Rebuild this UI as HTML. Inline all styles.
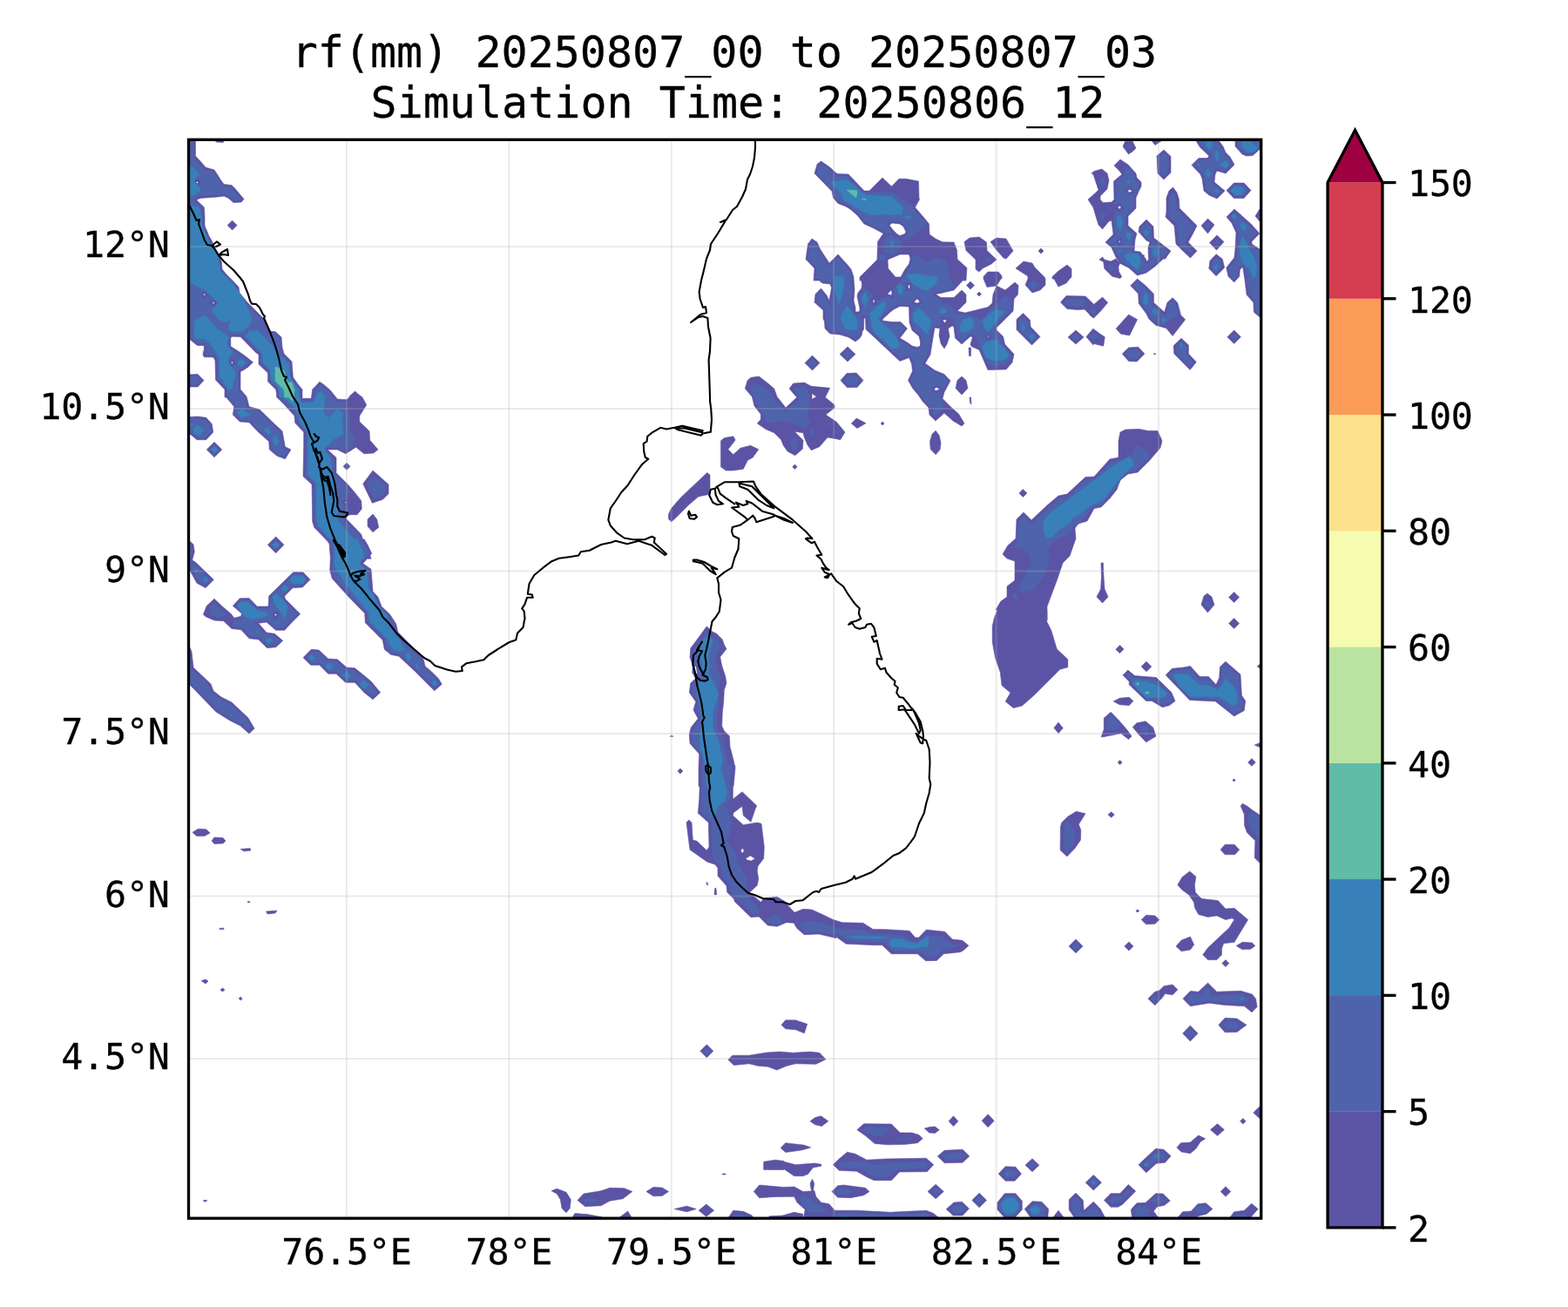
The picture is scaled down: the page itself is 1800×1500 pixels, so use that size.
<!DOCTYPE html>
<html lang="en"><head><meta charset="utf-8"><title>rf(mm) 20250807_00 to 20250807_03</title>
<style>
html,body{margin:0;padding:0;background:#fff;}
body{width:1800px;height:1500px;overflow:hidden;}
svg{display:block;}
text{font-family:"DejaVu Sans Mono","Liberation Mono",monospace;fill:#000;stroke:#000;stroke-width:0.3px;}
.t{font-size:50px;text-anchor:middle;}
.k{font-size:41.67px;letter-spacing:-0.15px;}
.c1{fill:#5b53a4;stroke:#5b53a4;stroke-width:0.6;}
.c2{fill:#4e63ac;stroke:#4e63ac;stroke-width:0.6;}
.c3{fill:#3880b9;stroke:#3880b9;stroke-width:0.6;}
.c4{fill:#60bba8;stroke:#60bba8;stroke-width:0.6;}
.w{fill:#fff;stroke:none;}
.g{stroke:#b0b0b0;stroke-opacity:0.26;stroke-width:2;fill:none;}
.coast{fill:none;stroke:#000;stroke-width:2.1;stroke-linejoin:round;stroke-linecap:round;}
</style></head>
<body>
<svg width="1800" height="1500" viewBox="0 0 1800 1500">
<rect x="0" y="0" width="1800" height="1500" fill="#fff"/>
<defs><clipPath id="ax"><rect x="216.5" y="160.3" width="1231.2" height="1237.9"/></clipPath></defs>
<g clip-path="url(#ax)">
<path class="c1" fill-rule="evenodd" d="M247,159 248,163 256.4,163.4 257,159Z M261.1,258.6 266.6,264.1 272.1,258.6 266.6,253.1Z M234.5,409.8 245,410 247,414 247.5,436 258,447 258,456 259.8,456 268.7,466.7 267.3,476 275.3,484 286,484.7 295.3,494.7 308.7,506.7 309.3,516 318,523.3 327.3,526.7 334,516 327.3,512.7 324,494.7 315.3,486.7 298,470 286,466.7 283.3,456 283,455.6 283,455 276,447 276,426.5 279,425 284.5,421.5 290.5,415.8 282,409 275,404 264.8,397.5 264.8,388 266,386.2 276,386.5 293.5,404.5 297,407 297,418 307.5,428 307.5,438 316.8,447.2 317.5,452.5 317.5,456 318,456 326,464 338,477.3 338.7,485.3 348.7,496 348.7,509.3 348,546.7 358,556 358.7,598.7 360.7,605.3 367.3,612 375.4,620.6 378,624 379.2,638.9 379.3,640.6 378.7,654.7 381.3,664 399.3,684 418.7,704 419.3,714.7 439.3,734.7 441.3,745.3 448.7,751.3 458,753.3 476.7,770.7 498.7,792.7 507.3,785.3 503.3,778.7 495.3,770.7 488,764.7 486.7,758.7 484.7,753.3 471.3,740 456.7,725.3 454.7,716 447.3,704.7 438,696 434,685.3 428,678.7 426,653.3 416.7,646.7 421.4,641.3 426,641.3 424.9,637.4 426.7,635.3 422,625.3 418,618.7 416.3,618.7 414.7,613.3 398,596 396.7,593.3 402,590.7 410,590.7 415.3,584 414.7,574.7 407.3,565.3 399.3,556 386,542.7 386,525.3 376,516 387.3,516 396.7,520.7 408.7,513.3 418,520.7 428.7,520 434,516 424.7,505.3 424,494.7 412.7,484 412.7,477.3 420.7,464.7 416,456 410.8,452 407.6,449 401,455 401,455.7 398,458.7 387.3,458 379.3,448 370,440 369.2,440 367,438 361.1,444.6 358.7,446.7 357.3,457.3 346.7,457.3 346.6,457 347,457 347,447 342,441 336.4,433 335,415 326,406 324,399 323,387 316,380.6 309,380 306,375 304,367 294,357 284.4,347.4 275,336 274,329.4 268,323 260,315 255,309 254.4,301 252,294 247,285 243,276 240,271 235,259 235,249 234.4,238 225.6,229.4 230,227.4 250,226 257,225 262.4,227.6 268,232.6 277,232 280,228.6 270,216.6 266,212.6 257,211.4 253,206 250,201 246,195 236,192 230,185 224.4,179 224.4,159 214,159 214,387 218.5,390 226.5,396.5 234.2,396.5 234.2,402.5 233.2,403.5 233.2,408ZM226.4,208.2 227.6,209.4 226.4,210.6 225.2,209.4ZM233.6,338 234.8,336.8 236,338 234.8,339.2ZM243.8,347.6 245,346.4 246.2,347.6 245,348.8ZM265.2,416.2 266.4,415 267.6,416.2 266.4,417.4ZM395.7,576.7 396.7,575.7 397.6,576.7 396.7,577.6Z M227,429.4 214,430 214,444 227,444 234,436.6Z M212.7,478.7 212.7,497.3 218,498 226,504.7 236.7,504.7 244.7,496 243.3,486.7 236.7,479.3 227.3,478Z M237.3,516 246,524.7 254.7,516 246,507.3Z M398,539.3 402,535.3 398,531.3 394,535.3Z M439.3,573.3 446,566.7 446,556 428,540 416.7,555.3 427.3,577.3Z M428,610.7 434.7,605.3 432.7,596 428,590 422,596 422,604Z M307.3,625.3 316.7,634.7 326,625.3 316.7,616Z M222,624.7 218,621.3 212.7,620 212.7,653.3 218,654.7 226,669.3 236,674.7 245.3,665.3 225.3,646 220.7,642.7 223.3,633.3Z M316.7,742.7 324.7,735.3 315.3,727.3 306,726 296.7,715.3 306,714 316.7,723.3 326.7,723.3 336,713.3 344.7,704.7 327.3,687.3 326.7,684 336,674.7 347.3,674 356,665.3 348,656.7 336.7,656.7 308.7,684 308,696 295.3,696 286,686.4 275.3,686.7 267.3,695.3 277.3,704 276.7,707.3 268.7,709.3 266,705.3 255.3,696 246,687.3 237.3,695.3 233.3,705.3 236.7,708 246,712 256.7,712.7 266,721.6 276.7,722.7 286,732.7 296.7,734 306.7,743.7ZM315.1,705.6 316.4,704.3 317.7,705.6 316.4,706.9Z M436.7,794.7 426,782 418,775.3 407.3,766.7 398,766 387.3,756.7 376.7,756 366,746 357.3,745.3 348,754.7 356.7,763.3 366.7,763.3 376.7,773.3 386,773.3 396.7,783.3 407.3,783.3 418,794.7 428,802.7Z M266,806 254,800 245,793 242,785 222,766 220,748 218,743 214,740 214,782 218,786 248,817 264,827 276,833 286,842 292,836 285,824Z M770.9,844 769.1,845.3 772.9,845.3Z M780.9,887.9 783.9,884.9 780.9,881.9 777.9,884.9Z M241.1,956.1 236.7,951.7 227.5,951.3 220.9,955.3 225.7,959.4 234.8,959.4Z M256,968 259,965 256,961.6 246,961 243,965 246,968.4Z M276,974.4 280,977 288,976 287,973.6Z M284.4,1034.6 284.4,1035.8 286.8,1035.8 286.8,1034.6Z M307,1049 316,1048 318,1045 305.6,1046Z M252,1066.6 257,1066.6 257,1065.2 252,1065.2Z M231,1125.6 236,1129 239,1126 236,1124Z M255.6,1138 258,1136 255.6,1134 253,1136Z M276.4,1148 278,1146.4 276.4,1144 274,1146Z M760,1372.5 767.5,1367.5 760,1363 750,1362.5 742,1367.5 750,1372.8Z M670,1370 663,1377.5 671.7,1384.7 690,1383.7 700,1378.3 715,1375.8 725.8,1367.5 716.7,1363.7 700,1363.3 690,1366.7Z M633,1366.7 639.2,1370 643.3,1376.7 645,1386.7 650,1391.7 654.2,1386.7 655.3,1376.7 650,1368.3 639.2,1364.2Z M238,1377.5 233,1377.5 235.5,1379.5Z M720.8,1390 705,1401.7 727.5,1401.7Z M675,1393.7 660,1392.5 654.2,1401.7 693.3,1401.7 690.8,1396.7Z M992,257 1003,262 1014,268 1007.5,277.5 1007,298 997,308 987,318 987,322 988.8,322 989.5,326 989,331 985,336 984,340 987,354 986.6,357.8 986.5,357.8 982,358 982,353 980,345 981,333 980,320 980,318 977,309 972,303 962,292 952,302 941.5,286 938,278 932,274 927.5,280 925,297.5 935,308 934.3,318 934,318 934.3,318.1 934,322 940.4,322 944,325 953,326 954.5,330 952,345 949,339 942.5,331 936,337.5 935,347 945,356 945,366 946.5,369 947,377 953,383 964,384 974,387 982,392 986.5,388.5 989,385 990,380 991.5,378 991.8,365 993.5,365 994,378 1033,414.5 1043.5,410.5 1046.5,417.5 1047.5,426 1042.5,436.5 1048,446 1054,453 1059,460.5 1066,468 1067,476 1074,483 1084,474 1094,483 1104,489 1107,486 1100.5,475 1093,468.5 1082,457.5 1084,450 1091,437 1084,429.5 1073,425 1062,417 1068,407 1069,400 1073,376 1079,377 1078,385 1080,394 1082,397.5 1082,397 1084,400 1087,395 1090,386 1088.5,377 1093,374 1095,375 1096.5,388 1104,395 1114,386 1116.5,387 1114,395 1115,397.5 1124,401.5 1134,424.5 1155,424 1162,416 1164,406.5 1153.5,395 1151.5,386 1144,379 1144,376 1163,357 1164,343 1168.5,338 1169,327.5 1165,324 1154,333 1144,328 1140,338 1139,348 1134,352.5 1108,359 1099,357 1109,347 1109,338 1104,333 1095,341.5 1084,341.5 1084,341.6 1080,341.5 1074,337.5 1082,336.3 1082,336 1095,333 1105.2,322 1109,322 1110,307.5 1099,297.5 1098.5,287 1095,278 1082,277.8 1074,274 1067,269 1066.5,257 1060,249 1050.5,238 1055.5,229 1055,227 1054.5,208 1040,205.2 1032,205.2 1023.5,214 1013,204 1002.5,214.5 998,219 992,219 974,200 961,199.5 952,191.5 942.5,185 938,188.5 935,199 955,219.5 956.5,227 962,233.5 971,237 976,240 984,247ZM1018.5,337.5 1023,333 1024,335 1023.5,339ZM1004,344 1004,347.5 1002.5,347.5 1002,344ZM1038.5,268.5 1033,270.5 1029,268 1024,262.5 1021,258.5 1024,256 1033,257 1037,260 1040,266ZM1039,309 1034,318 1028,318 1019.5,308 1019,298 1033,292 1043.5,292 1045,297 1043.5,303ZM1042.5,327 1044.5,327 1044.5,331 1042.5,331ZM1049,346.5 1053,342.8 1056,346.5 1053,348ZM1084.5,371 1082,367 1087,367ZM1034,369.5 1024,369.5 1013,368 1013,366.5 1021,359 1026,355 1033,351.5 1043.5,352 1044,370 1047,379 1055,386 1056.5,392 1056.5,397 1053,398.5 1047,397 1041.5,393 1033,388 1041.5,377ZM1134.5,387.5 1133.5,385.5 1135.5,385.5ZM1072,446.5 1075,444.5 1079,446.5 1074.5,448.5Z M973,415 982,406.5 973,398 964,406.5Z M932.5,425 941,416.5 932.5,408 924,416.5Z M984,444.5 991,436.5 983,428 972,428.5 965,436.5 972.5,444.8Z M899.3,511.3 904,518 912.7,522.7 921.3,515.3 922,505.3 912,495.3 922,496.7 923.3,502 927.3,511.3 931.3,516.7 940.7,512.7 950,502 958,503.3 964.7,504.7 970,496 960,484 948,476 958,468 958,464.7 947.3,456 952.7,445.3 931.3,443.3 923.3,439.1 910.7,440 906,446 914.7,456 902,468 892,455.3 888.7,446 880.7,439.3 871.3,432 862,433.3 858,436.7 855.3,446 863.3,455.3 866,466 873.3,475.3 873.3,481.3 869.3,486 879.3,492.7 888.7,496.7 896.7,504.7ZM932,451.6 937.3,455.3 932,458.3Z M984,491.6 994,485.7 983.3,480 977.3,486Z M1011.1,486 1013.1,488 1015.1,486 1013.1,484Z M861.7,511.3 850,514.2 841.7,521.7 835.8,515.8 844.2,505 841.7,500.8 831.7,502.5 827.5,505.8 827.5,535.8 833.3,540 841.7,540 853.3,538.3 858.3,528.3 864.2,525 870.8,515.8Z M909.7,535.7 912.4,538.4 915.1,535.7 912.4,533.1Z M811.7,542.5 796.7,556.7 781.7,570.8 770.8,583.3 767.5,590 767.5,595.8 770.8,598.7 775,595 790,580 801.7,570 813.3,567.5 815,560 815,545Z M798.7,805.3 796,814.7 801.3,824.7 793.3,834.7 791.3,842.7 792,853.3 802.7,865.3 802.1,878.7 802,878.7 802.1,879.7 802,881.3 802,902.7 803.2,902.7 802.7,917.3 801.3,933.3 813.3,944 814,972 811.3,976 800,965.3 795.3,964 794,944 790.7,941.1 788,944 790.7,965.3 792,975.3 812,989.3 820.7,992 824,996 824,1005.3 834,1016.7 834.7,1024 842.7,1032 843.3,1034.7 862,1052.7 871.3,1052 881.3,1062 892,1063.3 902.7,1058.7 911.3,1059.3 914.7,1065.3 923.3,1072.7 940,1072 960,1076.7 960,1075.3 971.3,1083.3 1004,1084.7 1012.7,1084.7 1023.3,1094.7 1053.3,1094.7 1062.7,1102.7 1075.3,1102.4 1083.3,1094.7 1102,1092.7 1105.3,1091.3 1112,1085.3 1104.7,1079.3 1093.3,1078 1084.7,1069.3 1063.3,1067.1 1054.7,1076 1050.7,1076 1044,1068.3 1017.3,1066.7 1002,1066.4 990.7,1059.3 966.7,1058.7 956,1055.3 953.3,1054 946.7,1050.7 932,1044 922,1043.3 912,1047.3 905.3,1040 901.3,1034.7 892,1029.3 885.3,1030 877.3,1030.7 873.3,1035.3 862.7,1026 860,1024.7 869.3,1016 870.7,1008 869.3,1000 870,994 876.7,985.3 877.3,972 874,945.3 869.3,944 853.3,946.7 841.3,936 842,932.7 852,925.3 853.3,936 862,943.3 866.7,929.3 868.7,924.7 852,908.7 841.3,917.3 841.3,902.7 842,902.7 843.3,889.3 844,881.3 843.9,880.7 844,878.7 843.4,878.7 841.3,869.3 838,857.3 837.3,844.7 831.3,838.7 828.7,833.3 829.3,817.3 830.7,805.3 831.3,792 834,784 832.7,776 828.7,764 826.7,754 834,744.7 831.3,740 829.3,734 822.7,727.3 817.3,724.7 811.3,718.7 802.7,730.7 792.7,744 792,754.7 795.3,764 794.7,772 798.7,778.7 792.7,784 791.3,794.7ZM799.3,764 800.7,773.3 798.7,774.7 797.3,765.3ZM853.3,974 854,976.7 852,979.3 850.7,977.3 851.1,974ZM861.3,982 866.7,985.3 862.7,988 858,987.3 856,985.3Z M811.3,1015.3 812.7,1016 812,1012.7 810.9,1012.7Z M820,1026.7 822.7,1026.7 822,1019.3 820.7,1019.3Z M913.3,1181.7 923.3,1185.8 926.7,1175.3 913.3,1170.8 901.7,1170.8 897,1176.3 901.7,1180.8Z M811.3,1213.8 818.8,1206.3 811.3,1198.8 803.8,1206.3Z M936.7,1221.3 948,1215.8 940.8,1208.3 930,1207 910,1208.3 895,1207 880,1208 860,1211.2 840.8,1211.3 835.8,1216.3 842.5,1222.5 860,1220.8 870,1223.3 881.7,1224.2 891.7,1228 903.3,1223.3 913.3,1220.8Z M943.3,1292.5 950.8,1286.7 942.5,1280.8 935.8,1282.5 930,1286.7 935.8,1290.8Z M1046.7,1300 1033.3,1300 1023.3,1290 991.7,1289.7 983.8,1296.7 993.3,1303.3 1004.2,1312.5 1020,1313.8 1040,1313.3 1053.3,1311.7 1059.2,1306.7 1055,1302.5Z M930.8,1317 923.3,1314.2 901.7,1311.7 896.2,1317.5 901.7,1322.5 920,1320Z M876.3,1337.5 876.7,1337.8 876.7,1342.5 881.5,1342.3 881.7,1342.5 900,1342.5 900,1341.7 911.7,1349.7 921.7,1349.7 927.5,1347.5 933.3,1340 942.5,1338.3 943,1336.3 935,1335 913.3,1336.7 900,1333.3 900,1332.5 890,1331.2 881.7,1332.5 881.6,1332.6 876.7,1333.3 876.7,1337.2Z M1071.7,1336.7 1063.3,1329.2 1016.7,1330 995,1331.2 981.7,1324.2 972.5,1322.2 963.3,1330 956.3,1336.7 963.3,1343.3 983.3,1344.2 995,1350.8 1003.3,1354.7 1023.3,1354.7 1032.5,1345 1064.2,1344.7Z M829.2,1348 833,1348 833,1347 829.2,1347Z M930.8,1363.3 931.7,1366.7 931.9,1366.9 921.7,1367.5 911.7,1362 899.6,1362.5 871.7,1360 865.3,1367.5 871.7,1374.7 886.7,1373.7 892.8,1373.5 911.7,1373.3 915,1380 924.2,1388.3 921.7,1401.7 1077.5,1401.7 1077.5,1397.5 1071.7,1392.5 1063.3,1389.2 1021.7,1391.3 983.3,1389.2 958.3,1389.2 951.7,1381.7 942.5,1380 936.7,1373.3 935,1366.7 934.1,1366.7 933.7,1365 934.7,1358.3 932.5,1353.3 930,1358.3Z M961.7,1374.2 976.7,1374.7 991.7,1371.7 998,1367.5 993.3,1363.3 968.3,1360 961.7,1360.8 955,1367.5Z M774.2,1387.5 788.3,1390.8 799.2,1387.5 788.3,1384.2Z M802.1,1389.2 810.8,1396.2 819.6,1389.2 810.8,1382.1Z M841.7,1389.2 833.3,1401.7 866.7,1401.7 863.3,1395 853.3,1390.3Z M898.3,1401.7 900,1401.7 921.7,1401.7 921.7,1393.3 911.7,1391.3 898.3,1395 898.3,1395.1 883.3,1395.8 880,1401.7Z M1152,296 1155,297 1163,288 1155,274 1144,273 1137,277.5 1144,287Z M1195,291 1198,288 1195,285 1192,288Z M1133,287.5 1132.5,278 1124,272 1113,273 1107,277.5 1109,287.5 1120,298 1120,309 1124,312 1128,308 1138,303 1144,298Z M1208,317.5 1208,320 1210,320 1215,329 1224,325 1228,320 1230,318 1230,308.5 1225,304 1215,311Z M1188,307 1185,302 1175,300 1166,308 1180,317 1180,320 1177,327 1185,336 1194,333 1200,327 1200,320 1199,318Z M1129,317.5 1129,320 1133,329.5 1144,328 1149,320 1150,320 1150,316.5 1146,312 1134,312Z M1109.5,327.5 1114,332 1118.5,327.5 1114,323Z M1124,340 1126.5,337.5 1124,335 1121.5,337.5Z M1167,378.5 1184.5,396 1194,386.5 1183,375 1182.5,367.5 1174.5,359.5 1167,366.5Z M1235,395 1244,387 1235,379 1226,387Z M1112,399 1112.5,408.5 1114.5,408.5 1114.5,399Z M1109,436.5 1104,432 1099,436.5 1097,445.5 1104,453 1111,445.5Z M1113.5,462 1115,464 1114.5,456 1113,456Z M1067.5,506.7 1068.3,515.8 1074.2,521.7 1079.2,515.8 1080,508.3 1078.3,500 1074.2,494.2 1070,498.3Z M1169.9,566 1174.4,570.5 1178.9,566 1174.4,561.5Z M1202,580 1184,597 1175,588 1167,596 1166,618 1157,626 1151,636 1156,641 1165,644 1165,666 1156,673 1156,685 1149,690 1143,700 1145,700 1141.7,708.3 1139.2,718.3 1139.2,736.7 1142.5,755 1148.3,771.7 1150,786.7 1160,795 1154.2,805 1163.3,812.5 1173.3,810 1186.7,798.3 1213.3,771.7 1216.7,768.3 1225.8,765.8 1225.8,756.7 1213.3,745 1206.7,723.3 1201.7,713.3 1201.7,700 1202,712 1202,696 1208,680 1214,664 1220,646 1228,638 1235,618 1234,606 1238,601 1248,598 1256,583.6 1264,582 1274,572 1282,562 1286,551 1295,544 1306,542 1320,528 1332,514 1334,506 1329,494.4 1318,494.4 1308,492.4 1292,493 1286,496 1284,506 1284,525 1274,527 1256,547 1246,547.6 1225,567 1215,569Z M1220.3,835.6 1219.9,835.2 1215,829.1 1210,835.3 1210.2,835.6 1210.1,835.6 1211.3,836.9 1215,841.6 1215.2,841.4 1215.2,841.4Z M1235.4,931.3 1226,937.1 1218.8,943.9 1217.4,948.9 1217.1,975.7 1224.9,982.9 1234,973.5 1240.5,964.1 1240.8,952.6 1238.3,946 1242,940.3 1246,933.7Z M1235,1093.8 1243,1085.9 1235,1078.1 1227.1,1085.9Z M1134.2,1293.8 1141.2,1286.3 1134.2,1278.8 1127.1,1286.3Z M1089.1,1286.7 1094.5,1292.5 1099.9,1286.7 1094.5,1280.8Z M1078.3,1296.7 1073.3,1293 1068.3,1293.3 1061.3,1295 1066.7,1300 1073.3,1300.5Z M1112.8,1327 1105,1319.2 1084.2,1320.3 1076.3,1327 1084.2,1334.7 1105,1334.2Z M1177.5,1336.7 1177.6,1336.7 1177.1,1337.2 1185,1344.7 1192.9,1337.2 1185,1329.7 1178.2,1336.1Z M1165,1355.3 1172.5,1347.2 1165.8,1339.2 1154.2,1338.8 1146.2,1347.2 1154.2,1355.3Z M1074.2,1375.8 1083.3,1367.5 1074.2,1359.2 1065,1367.5Z M1124.2,1385.8 1132.5,1377.5 1124.2,1369.2 1115.8,1377.5Z M1145,1380 1145,1388.3 1153.3,1397.5 1165,1397.5 1173.3,1388.3 1173.3,1378.3 1165.8,1369.7 1153.3,1369.7Z M1112.5,1387 1104.2,1379.2 1095,1380 1086.2,1387.8 1094.2,1395 1105,1395Z M1203.7,1387.5 1195.8,1379.2 1185,1378.7 1176.2,1387.5 1185,1400 1202.5,1400Z M1215,1389.2 1206.7,1400 1223.3,1400Z M1321,160 1326,166.5 1336,160Z M1304,170 1300,162 1291.5,162.5 1289,168 1295.5,177 1300,174Z M1336,206 1344,198 1344,179.5 1336,172 1328,179 1329,199Z M1263,229 1263,225 1271,217 1273,207 1271,199 1265,194 1256,196.5 1253,199 1255,200 1257,206 1261,218 1259,220 1249,229 1255,238 1257,245 1261,258 1265.5,263 1273,254 1276,253 1278,269 1269,278 1276,284 1280,293 1282,297 1282.4,297 1285.6,302.2 1295.6,307.2 1305.6,316.1 1315.6,313.3 1325.6,306.1 1335.6,297 1338,297 1339,295 1344,288 1324.5,273 1324,260 1316,252 1308,260 1307,266 1316,276 1320,278 1318,284 1318.5,297 1319.3,297 1316.7,300 1314,296 1316,298 1313.3,294.6 1313.3,292.8 1311.9,292.8 1309,289 1302,288 1303,275 1305,268 1295,259 1295,248 1304,239 1304,227 1307,220 1310,214 1310,209 1305,204 1304,199 1295,189 1286,183 1279,190 1284,195 1288,200 1278.5,208 1279,229 1276,232 1266,232.5ZM1297,217.5 1300,219.5 1296,221 1294.5,218.5ZM1283,238 1285.5,236 1287,238.5 1285,240ZM1284,277.5 1286,275.5 1285.5,279Z M1364,278 1370,267 1374,259 1354,239 1353.5,229 1351,221 1346.5,215 1342,219 1339,227 1339,243 1338,249 1348,259 1350,280 1359,289 1366.5,296 1374,288Z M1285.6,302.2 1283.3,299.4 1281,297 1275,300 1268,298 1265.6,295 1262,298 1266.7,300.6 1267.8,308.3 1276.7,317.2 1285.6,319.4 1287.8,317.8 1284.4,311.7 1283.9,306.1Z M1237,355.5 1245,355 1252.8,362.8 1255.6,365 1263.3,357.2 1271.7,347.2 1265.6,341.1 1255.6,349.4 1254.5,348 1246,340 1224,339.5 1217.5,347 1225,354.5Z M1355.6,361.7 1351.7,347.2 1346.1,341.7 1340,347.2 1336.7,358.3 1324.4,347.2 1324.4,337.2 1315.6,328.3 1305.6,320 1297.8,327.8 1306.7,337.2 1307.2,348.3 1315.6,359.4 1318.9,366.1 1326.7,373.3 1338.9,376.7 1346.1,385.6 1360.6,366.7Z M1250,360.6 1255,365 1252.8,362.8Z M1295.6,361.1 1281.1,377.2 1286.7,383.3 1296.7,385 1305.6,366.7Z M1255,396 1255.6,394.4 1266.7,397.2 1268.3,386.7 1262.2,382.8 1255,377.2 1255,377 1247,386.5Z M1324.4,405.7 1324.4,406.6 1326.7,406.6 1326.7,405.7Z M1347.8,406.1 1366.1,424.4 1373.3,415.6 1364.4,406.1 1364.4,396.1 1356.1,388.3 1347.2,396.7Z M1305,415 1313.9,406.1 1306.7,398.3 1295.6,398.9 1288.3,406.1 1295.6,414.4Z M1264,646 1264.4,662 1263.6,676 1259,685 1265.6,692 1272,685 1268,676 1267,662 1266.4,646Z M1285.6,749.5 1290.1,745 1285.6,740.5 1285.4,740.7 1285.4,740.7 1280.9,745.2 1285.4,749.7 1285.6,749.5Z M1316,770.8 1321.8,765 1316,759.2 1310.2,765Z M1327.3,777.5 1302.7,775.6 1294.8,769.1 1289,774.8 1296.2,782.1 1296.2,785.7 1315.7,804.5 1322.3,804.5 1334.5,811.7 1342.5,809.6 1349,804.5 1344.7,794.4Z M1296.2,809.6 1301,804.5 1296.2,800.2 1285.4,801.2 1278.1,804.9 1285.4,808.8Z M1267.3,837.1 1264.1,845.7 1266.6,845.7 1286.8,841.7 1295.5,848.6 1299.1,845 1294,837.8 1284.6,826.9 1275.2,817.2 1267.3,824Z M1315.7,851.8 1327,845 1323.7,834.9 1315,827.7 1304.9,829.8 1300.3,834.5 1307.1,842.8Z M1283.1,875.1 1285.6,877.6 1288.2,875.1 1285.6,872.6Z M1272,935 1275.7,938.3 1279.3,935 1275.7,931.8Z M1303.9,1045.4 1305.9,1047 1307.9,1045.4 1305.9,1043.8Z M1330.9,1055.6 1325.9,1050.9 1315.7,1050.2 1310.2,1055.6 1315.7,1060.8 1325.9,1060.3Z M1370.7,1084.2 1366.4,1075.1 1356.2,1079.1 1350,1085.9 1356.2,1091.7 1366.4,1090Z M1290.9,1085.9 1295.9,1091 1301,1085.9 1295.9,1080.9Z M1325.9,1138.2 1317.9,1146.2 1325.9,1153.8 1334.5,1144.7 1337.4,1140.4 1346.1,1141.8 1351.9,1135.8 1346.1,1130 1336,1131.7 1330.9,1136.8Z M1315.8,1345.8 1327.5,1335.3 1337.5,1334.2 1344.2,1326.7 1335.8,1319.2 1326.7,1318.3 1316.7,1327.5 1307,1336.7Z M1246.2,1357.2 1255.3,1365.9 1264.5,1357.2 1255.3,1348.4Z M1267.5,1377.5 1275,1385.3 1283.3,1385.3 1288.3,1382.5 1298.3,1372.5 1303.7,1367 1295.3,1359.5 1285.8,1369.7 1275,1369.7Z M1227.2,1376.7 1227.2,1388.3 1235,1400 1270,1400 1263.3,1387.5 1255.3,1379.2 1244.2,1389.2 1243.3,1377.5 1235,1369.2Z M1326.7,1369.7 1315,1380.3 1305,1380.8 1298.3,1388.3 1300,1400 1331.7,1400 1324.2,1390 1328.3,1385 1336.7,1383.3 1343.3,1378 1335,1370Z M1418,168 1426,177 1431,179 1438,178.5 1449,169 1449,160 1418,160Z M1395,200 1397,196 1407,199 1417,189 1412,180 1407,175 1404,168 1398,160 1372,160 1377.5,169 1388,179 1386,181.5 1376,181.5 1368,189.5 1378,200 1380,205 1382,219 1388,224 1397,228 1406,219 1394,209Z M1436,218.5 1428,210 1416.5,210 1408,218.5 1416.5,227.5 1428,227.5Z M1446,240 1441,248 1446,254 1449,254 1449,240Z M1379,259 1386.5,268 1394,258 1386.5,251Z M1416.7,323.9 1422.8,317.2 1423.3,309.4 1425.8,307 1426.8,307 1428.9,320.6 1431.1,338.3 1438.9,347.2 1439.4,358.3 1446.7,364.4 1450,366.1 1450,292.8 1449,292.8 1449,288 1437,280 1437,277 1446,268 1436,257 1426,248 1417,240 1408,249 1414,256 1419,267 1418,285 1417,295 1416.8,295.9 1416.7,296.1 1407.8,307.2 1410,317.2Z M1396.5,287 1405,277.5 1397,270 1388.5,278.5Z M1405.6,307.2 1403.3,297.2 1396.1,291.7 1388.9,299.4 1387.8,308.3 1396.1,316.7Z M1416.7,394.4 1424.4,386.7 1416.7,378.9 1408.9,386.7Z M1410.6,685.4 1416.6,691.4 1422.6,685.4 1416.6,679.4Z M1394,694 1391,685 1386,681 1382,684 1379,694 1386.4,703Z M1410.6,715.4 1416.6,721.4 1422.6,715.4 1416.6,709.4Z M1443.1,764.7 1448.8,769.1 1448.8,760.4Z M1400.4,765.4 1399.7,777.7 1396,785.7 1387.4,776.6 1377.2,776.6 1366.4,764.4 1359.1,765.9 1345.4,767.3 1338.2,774.8 1365.7,803.5 1395.3,804.9 1416.7,821.9 1428.3,815.4 1429.7,804.5 1425.4,798 1424,774.1 1406.9,759.2Z M1448.8,851.5 1440.2,855.1 1448.8,858.8Z M1437,879.3 1441.3,875 1437,870.6 1432.6,875Z M1416.6,897 1418.2,895.4 1416.6,893.8 1415,895.4Z M1451.7,935.2 1445.9,935.2 1437.3,929.4 1431.5,925.1 1426.4,922.2 1424.2,925.1 1428.3,934.5 1428.6,947.5 1431.5,955.4 1440.9,964.8 1440.2,984.4 1445.9,990.2 1451.7,990.9Z M1422.8,975.3 1417,969.2 1406.2,969.2 1401.1,975.3 1406.2,980.8 1417.7,980.8Z M1414.1,1053.8 1417,1055.3 1411.2,1064.7 1399.7,1075.5 1386.6,1087.8 1380.8,1095.8 1386.6,1101.6 1396.8,1101.6 1402.5,1095.8 1402.5,1088.5 1404.7,1082.8 1417,1081.3 1432.6,1055.6 1417,1042.3 1406.9,1043 1398.2,1033.6 1379.4,1031.4 1372.2,1024.2 1371.4,1015.5 1372.9,1006.1 1365.7,1000 1357,1006.8 1351.9,1015.5 1357,1021.3 1364.9,1027.1 1370.7,1035.7 1371.4,1041.5 1375.8,1049.5 1386.6,1052.4 1396.8,1050.9 1406.9,1055.6Z M1435.8,1089.3 1440.9,1085.4 1437.3,1082 1426.4,1081.3 1419.2,1085.4 1425.7,1089.6Z M1406.9,1109.6 1410.9,1105.6 1406.9,1101.6 1402.9,1105.6Z M1424.2,1137.2 1396.8,1138.2 1386.6,1128.1 1375.8,1138.2 1366.4,1137.5 1358,1146.2 1366.4,1154.8 1388.1,1151.2 1405.4,1153.4 1428.6,1154.8 1437,1161.8 1443.1,1155.6 1441.6,1146.2 1437.3,1141.1Z M1419.9,1184.5 1431,1176.3 1419.9,1169 1406.2,1168.3 1398.9,1176.3 1406.2,1184.8Z M1366.4,1195 1375.1,1186 1366.4,1176.9 1357.7,1186Z M1445.9,1269.9 1438.7,1277.1 1445.9,1283.6 1451.7,1284.3 1451.7,1269.9Z M1423.6,1286.8 1426.9,1290 1430.1,1286.8 1426.9,1283.5Z M1397.5,1303.5 1405.4,1296.6 1397.5,1289.8 1389.5,1296.6Z M1350.9,1316.9 1356.2,1322 1366.4,1323.8 1372.9,1318.3 1378,1310.4 1383.7,1306.8 1375.8,1303.1 1366.4,1311.1 1355.5,1311.8Z M1401.2,1367.5 1407,1373.3 1412.8,1367.5 1407,1361.7Z M1350,1400 1371.7,1400 1375,1395.8 1385,1393.3 1392,1387.5 1384.2,1380.8 1375,1381.7 1367.5,1390 1357.5,1390.8Z M1436.7,1381.3 1428.3,1389.2 1416.7,1390.8 1410,1400 1433.3,1400 1444.2,1387.5Z"/>
<path class="c2" fill-rule="evenodd" d="M973,411.5 978,406.5 973,401.5 968,406.5Z M937.5,416.5 932.5,411.5 927.5,416.5 932.5,421.5Z M216.5,432.4 216.5,441.5 225.9,441.5 230.5,436.6 226,431.9Z M911.3,446 918,458 902,472.7 888.7,458 883.3,448.7 870,440.7 860.7,443.3 864.7,454 868.7,463.3 875.3,474 880.7,485.3 899.3,483.3 910,486 923.3,491.3 930,486 926,476.7 930,463.3 928,451.3 924.7,443.3Z M311.1,505.5 311.8,514.8 319.3,521.1 326.3,523.6 330.4,517 325.1,514.3 321.7,495.9 313.6,488.5 296.7,472.2 283.9,468.7 281.1,457.2 280.5,456.5 280.5,455.9 273.5,447.9 273.5,425 277.8,422.8 283,419.5 286.7,416 280.5,411 273.6,406.1 262.3,398.9 262.3,387.2 264.7,383.7 277.1,384 295.1,402.6 299.5,405.7 299.5,416.9 310,426.9 310,437 319.1,446.1 320,452.3 320,454.5 327.8,462.3 340.4,476.3 341.1,484.3 351.2,495 351.2,509.4 350.5,545.6 360.5,554.9 361.2,598.3 362.9,604 369.1,610.3 377.3,619 380.4,623.1 381.7,638.7 381.8,640.6 381.2,654.4 383.6,662.8 401.2,682.3 421.1,702.9 421.8,713.6 441.6,733.4 443.6,744 449.8,749 459.2,751 478.4,768.9 498.8,789.3 504.1,784.8 501.3,780.2 493.7,772.5 485.7,766.1 484.3,759.4 482.5,754.7 469.6,741.8 454.4,726.6 452.3,717 445.4,706.3 435.9,697.4 431.8,686.7 425.6,679.7 423.6,654.7 413,647.1 420.2,638.8 422.7,638.8 422.1,636.7 423.7,634.9 419.8,626.5 416.6,621.2 414.4,621.2 412.4,614.6 395.9,597.5 393.3,592.2 401.1,588.3 398,580 398,579.7 397.9,579.8 397.6,579.9 397.4,580 397.2,580.1 396.9,580.1 396.7,580.1 396.4,580.1 396.2,580.1 395.9,580 395.7,579.9 395.5,579.8 395.3,579.7 395.1,579.5 394.9,579.4 393.9,578.4 393.8,578.3 393.6,578.1 393.5,577.9 393.4,577.6 393.3,577.4 393.3,577.2 393.2,576.9 393.2,576.7 393.2,576.4 393.3,576.2 393.3,575.9 393.4,575.7 393.5,575.5 393.6,575.3 393.8,575.1 393.9,574.9 394.9,573.9 395.1,573.8 395.3,573.6 395.5,573.5 395.7,573.4 395.9,573.3 396.2,573.3 396.4,573.2 396.7,573.2 396.9,573.2 397.2,573.3 397.3,573.3 396.7,568 404.6,566 397.5,557.7 383.5,543.7 383.5,526.4 369.7,513.5 387.9,513.5 396.5,517.8 406.2,511.9 402,509.3 408.7,504 402,493.3 400.7,473.3 396.7,466.7 398.5,461.2 386.1,460.4 377.5,449.7 369.1,442.5 368.3,442.5 367.2,441.5 362.8,446.4 361,448 359.5,459.8 344.3,459.8 344,454.4 344.5,454.4 344.5,447.9 340,442.5 334,433.9 332.6,416.1 323.8,407.3 321.5,399.5 320.6,388.2 314.9,383 307.5,382.4 303.7,376 301.7,368.3 282.5,349.1 272.6,337.1 271.6,330.5 266.2,324.7 258.2,316.7 252.6,310 251.9,301.5 249.7,295 244.8,286.1 240.8,277.2 237.8,272.1 232.5,259.5 232.5,249.1 232,239.1 221.2,228.6 229.4,224.9 249.7,223.5 257.4,222.4 263.8,225.5 268.9,230 275.8,229.6 276.7,228.6 268.2,218.3 264.8,215 255.6,213.7 250.9,207.4 247.9,202.3 244.4,197.1 234.6,194.2 228.1,186.7 221.9,180 221.9,161.5 216.5,161.5 216.5,385.7 220,388 227.4,394 236.7,394 236.7,403.5 235.7,404.5 235.7,407.2 235.8,407.3 246.6,407.5 249.5,413.4 250,435 260.5,446 260.5,453.5 260.9,453.5 271.3,465.9 270,475.1 276.4,481.6 287.1,482.2 297.1,492.9ZM263.1,414.8 263.3,414.6 263.4,414.5 264.7,413.2 264.8,413.1 265,412.9 265.2,412.8 265.4,412.7 265.7,412.6 265.9,412.5 266.2,412.5 266.4,412.5 266.6,412.5 266.9,412.5 267.1,412.6 267.4,412.7 267.6,412.8 267.8,412.9 268,413.1 268.1,413.2 269.4,414.5 269.5,414.6 269.7,414.8 269.8,415 269.9,415.2 270,415.5 270.1,415.7 270.1,416 270.1,416.2 270.1,416.4 270.1,416.7 270,416.9 269.9,417.2 269.8,417.4 269.7,417.6 269.5,417.8 269.4,417.9 268.1,419.2 268,419.3 267.8,419.5 267.6,419.6 267.4,419.7 267.1,419.8 266.9,419.9 266.6,419.9 266.4,419.9 266.2,419.9 265.9,419.9 265.7,419.8 265.4,419.7 265.2,419.6 265,419.5 264.8,419.3 264.7,419.2 263.4,417.9 263.3,417.8 263.1,417.6 263,417.4 262.9,417.2 262.8,416.9 262.7,416.7 262.7,416.4 262.7,416.2 262.7,416 262.7,415.7 262.8,415.5 262.9,415.2 263,415ZM241.7,346.2 241.9,346 242,345.9 243.3,344.6 243.4,344.5 243.6,344.3 243.8,344.2 244,344.1 244.3,344 244.5,343.9 244.8,343.9 245,343.9 245.2,343.9 245.5,343.9 245.7,344 246,344.1 246.2,344.2 246.4,344.3 246.6,344.5 246.7,344.6 248,345.9 248.1,346 248.3,346.2 248.4,346.4 248.5,346.6 248.6,346.9 248.7,347.1 248.7,347.4 248.7,347.6 248.7,347.8 248.7,348.1 248.6,348.3 248.5,348.6 248.4,348.8 248.3,349 248.1,349.2 248,349.3 246.7,350.6 246.6,350.7 246.4,350.9 246.2,351 246,351.1 245.7,351.2 245.5,351.3 245.2,351.3 245,351.3 244.8,351.3 244.5,351.3 244.3,351.2 244,351.1 243.8,351 243.6,350.9 243.4,350.7 243.3,350.6 242,349.3 241.9,349.2 241.7,349 241.6,348.8 241.5,348.6 241.4,348.3 241.3,348.1 241.3,347.8 241.3,347.6 241.3,347.4 241.3,347.1 241.4,346.9 241.5,346.6 241.6,346.4ZM231.5,336.6 231.7,336.4 231.8,336.3 233.1,335 233.2,334.9 233.4,334.7 233.6,334.6 233.8,334.5 234.1,334.4 234.3,334.3 234.6,334.3 234.8,334.3 235,334.3 235.3,334.3 235.5,334.4 235.8,334.5 236,334.6 236.2,334.7 236.4,334.9 236.5,335 237.8,336.3 237.9,336.4 238.1,336.6 238.2,336.8 238.3,337 238.4,337.3 238.5,337.5 238.5,337.8 238.5,338 238.5,338.2 238.5,338.5 238.4,338.7 238.3,339 238.2,339.2 238.1,339.4 237.9,339.6 237.8,339.7 236.5,341 236.4,341.1 236.2,341.3 236,341.4 235.8,341.5 235.5,341.6 235.3,341.7 235,341.7 234.8,341.7 234.6,341.7 234.3,341.7 234.1,341.6 233.8,341.5 233.6,341.4 233.4,341.3 233.2,341.1 233.1,341 231.8,339.7 231.7,339.6 231.5,339.4 231.4,339.2 231.3,339 231.2,338.7 231.1,338.5 231.1,338.2 231.1,338 231.1,337.8 231.1,337.5 231.2,337.3 231.3,337 231.4,336.8ZM227.8,206.1 228,206.3 228.1,206.4 229.4,207.7 229.5,207.8 229.7,208 229.8,208.2 229.9,208.4 230,208.7 230.1,208.9 230.1,209.2 230.1,209.4 230.1,209.6 230.1,209.9 230,210.1 229.9,210.4 229.8,210.6 229.7,210.8 229.5,211 229.4,211.1 228.1,212.4 228,212.5 227.8,212.7 227.6,212.8 227.4,212.9 227.1,213 226.9,213.1 226.6,213.1 226.4,213.1 226.2,213.1 225.9,213.1 225.7,213 225.4,212.9 225.2,212.8 225,212.7 224.8,212.5 224.7,212.4 223.4,211.1 223.3,211 223.1,210.8 223,210.6 222.9,210.4 222.8,210.1 222.7,209.9 222.7,209.6 222.7,209.4 222.7,209.2 222.7,208.9 222.8,208.7 222.9,208.4 223,208.2 223.1,208 223.3,207.8 223.4,207.7 224.7,206.4 224.8,206.3 225,206.1 225.2,206 225.4,205.9 225.7,205.8 225.9,205.7 226.2,205.7 226.4,205.7 226.6,205.7 226.9,205.7 227.1,205.8 227.4,205.9 227.6,206Z M954,488.7 953.3,484.7 950.7,486 951.3,490Z M215.2,495.1 219,495.6 226.9,502.2 235.6,502.2 242,495.2 241,487.8 235.4,481.7 227.2,480.5 215.2,481.1Z M963.3,497.3 963.3,494 957.3,494.7 958,497.3Z M935.3,496.7 933.3,491.3 930.7,494 932.7,502Z M916.7,508.7 912.7,502 907.3,506 910,518 915.3,515.3Z M246,510.9 240.9,516 246,521.1 251.1,516Z M442,557.8 428.6,545.9 421.3,555.8 429.4,572.4 437.2,569.8 442,565Z M316.7,619.5 310.9,625.3 316.7,631.1 322.5,625.3Z M219.7,626 216.8,623.6 215.2,623.2 215.2,651.4 219.7,652.5 227.8,667.5 235.5,671.6 241.8,665.4 223.7,647.9 217.8,643.7 220.8,633.2Z M324,683.2 334.9,672.2 346.2,671.6 352.5,665.3 346.9,659.2 337.7,659.2 311.1,685.1 310.4,698.5 294.3,698.5 285,688.9 276.5,689.1 270.9,695.1 280.1,703.1 278.8,709.4 268.3,712 266.7,718.8 267.1,719.2 277.9,720.3 287.2,730.3 297.8,731.6 307.6,741.1 315.6,740.3 320.9,735.4 314.3,729.7 304.7,728.3 291.7,713.5 306.8,711.4 317.6,720.8 325.6,720.8 334.2,711.6 341.1,704.7 325,688.6ZM313,704.2 313.1,704 313.2,703.9 314.7,702.4 314.8,702.3 315,702.2 315.2,702.1 315.4,701.9 315.7,701.9 315.9,701.8 316.2,701.8 316.4,701.8 316.6,701.8 316.9,701.8 317.1,701.9 317.4,701.9 317.6,702.1 317.8,702.2 318,702.3 318.1,702.4 319.6,703.9 319.7,704 319.8,704.2 319.9,704.4 320.1,704.6 320.1,704.9 320.2,705.1 320.2,705.4 320.2,705.6 320.2,705.8 320.2,706.1 320.1,706.3 320.1,706.6 319.9,706.8 319.8,707 319.7,707.2 319.6,707.3 318.1,708.8 318,708.9 317.8,709 317.6,709.1 317.4,709.3 317.1,709.3 316.9,709.4 316.6,709.4 316.4,709.4 316.2,709.4 315.9,709.4 315.7,709.3 315.4,709.3 315.2,709.1 315,709 314.8,708.9 314.7,708.8 313.2,707.3 313.1,707.2 313,707 312.9,706.8 312.7,706.6 312.7,706.3 312.6,706.1 312.6,705.8 312.6,705.6 312.6,705.4 312.6,705.1 312.7,704.9 312.7,704.6 312.9,704.4Z M260.7,705.3 246,692 240.7,696 242,705.3 250,709.3Z M377.7,770.8 387,770.8 397.7,780.8 408.4,780.8 419.7,792.8 427.9,799.4 433.2,794.4 424.2,783.8 416.4,777.3 406.4,769.1 397,768.4 386.3,759.1 375.6,758.4 364.9,748.4 358.3,747.9 351.5,754.7 357.7,760.8 367.7,760.8Z M217.6,748.6 216.5,746 216.5,781 219.8,784.2 249.6,815 265.2,824.8 277.4,830.9 285.9,838.6 288.9,835.6 283,825.6 264.6,808.1 252.7,802.1 242.9,794.5 239.9,786.4 219.6,767.2Z M826.7,744 825.3,735.3 818.7,732 811.3,724.7 804,734.7 796,745.3 795.3,754.7 798.7,764 798.6,764.5 799.3,764 800.7,773.3 799,774.4 801.3,780 796,785.3 794.7,794.7 802,805.3 799.3,814.7 804.7,825.3 796.7,836 794.7,843.3 795.3,853.3 806,866.7 805.3,902.7 805.9,902.7 805.3,917.3 804.7,932 817.3,942.7 817.3,972 818.7,985.3 828,994.7 828,1004 837.3,1014.7 838.7,1022.7 846.7,1032 864,1048.7 872,1048 870.7,1042.7 861.3,1032 856,1024 858.7,1008 852,1000 848,990.7 845.3,981.3 834.7,965.3 838.7,954.7 840,944 836,933.3 833.3,925.3 838.7,917.3 837.3,900 840,878.7 836.7,878.7 834.7,870.7 832,858.7 830.7,848 825.3,840 822.7,833.3 824,816 825.3,804 824.7,793.3 826,785.3 826.7,776 822.7,764 820.7,754Z M798,772 798.4,773 798.1,770.7Z M890.7,1060.7 896,1060 898,1054.7 890.7,1048.7 880,1056 881.3,1058.7Z M811.3,1202.6 807.6,1206.3 811.3,1210.1 815.1,1206.3Z M963.3,1371.3 973.3,1370.8 980,1367.5 973.3,1364.2 963.3,1364.2 959.2,1367.5Z M681.7,1380 686.7,1378.3 685,1375.8 675,1375 669.2,1377.5 671.7,1380Z M935,1380 923.3,1371.7 917.5,1376.7 923.3,1385 930,1391.7 943.3,1391.7 950,1388.3 943.3,1385Z M851.7,1393.7 843.3,1393.3 838.3,1401.7 860,1401.7 858.3,1396.7Z M960,202 950.5,193.5 942.6,188.1 940.2,190 937.8,198.3 938.2,198.7 938,199 957.6,219.5 958.8,225.9 963.5,231.4 972.1,234.7 977.5,238 985.8,245.3 993.6,255 1004.1,259.8 1017.6,267.1 1016.1,269.4 1024,267 1025.3,267.6 1022.1,264.1 1022,264.1 1019,260 1018.8,259.8 1018.7,259.6 1018.6,259.3 1018.6,259.1 1018.5,258.8 1018.5,258.6 1018.5,258.3 1018.5,258.1 1018.6,257.8 1018.7,257.6 1018.8,257.4 1018.9,257.1 1019,256.9 1019.2,256.7 1019.3,256.6 1022.4,254 1022.6,253.9 1022.8,253.8 1023,253.7 1023.3,253.6 1023.5,253.5 1023.8,253.5 1024,253.5 1024.2,253.5 1033.3,254.5 1033.5,254.5 1033.8,254.6 1034,254.7 1034.3,254.8 1034.5,255 1038.6,258 1038.7,258.1 1038.9,258.3 1039,258.5 1039.1,258.7 1039.2,258.8 1042.3,264.9 1042.3,265.1 1042.4,265.3 1042.5,265.6 1042.5,265.8 1042.5,266.1 1042.5,266.3 1042.4,266.6 1042.4,266.8 1042.3,267.1 1042.2,267.2 1040.6,269.8 1040.5,270 1040.4,270.2 1040.2,270.4 1040,270.5 1039.8,270.7 1039.6,270.8 1039.4,270.8 1034.9,272.5 1040,275 1064.1,258.3 1064,257.9 1058.1,250.6 1047.5,238.3 1048.3,236.8 1040,231 1025.5,221.9 1024,220.5 1018.8,221 1008,221 1001.2,219.3 999,221.5 990.9,221.5 972.9,202.5Z M1015,289 1024,293 1031,288 1037.5,278 1023,270 1014,276Z M1016.9,296.7 1017,296.5 1017.2,296.3 1017.4,296.1 1017.6,295.9 1017.8,295.8 1018,295.7 1018,295.7 1018,293 1009.7,291.3 1009.5,299 1016.5,299 1016.5,298.1 1016.5,297.9 1016.5,297.6 1016.6,297.4 1016.6,297.1 1016.7,296.9Z M1138,298 1134,295 1130,298 1134,301Z M1106.9,316.5 1105.6,319.5 1106.7,319.5Z M1193,327 1186,321 1180,327 1186,333Z M1170,368 1170,377.5 1184.5,392 1190,386.5 1180.5,376 1180,369 1174.5,363Z M949.4,375.9 954.1,380.6 964.5,381.5 975,384.7 981.8,389 984.7,386.8 986.7,384 987.7,379 989,377.1 989.4,362.5 995.9,362.5 996.5,376.9 1033.6,411.6 1044.9,407.3 1048.9,416.8 1050.1,426.4 1045.3,436.4 1050,444.5 1056,451.5 1061,458.9 1068.4,466.9 1068.6,468.5 1071,469 1072,476 1074,478 1082,469 1084,464 1083.6,462.6 1079.2,458.2 1081.7,449.1 1087.9,437.4 1082.5,431.6 1071.8,427.2 1058.7,417.7 1065.6,406.1 1066.5,399.6 1070.9,373.1 1079.2,374.5 1079.7,368 1079.7,367.9 1079.6,367.7 1079.5,367.4 1079.5,367.2 1079.5,366.9 1079.5,366.7 1079.5,366.5 1079.6,366.2 1079.7,366 1079.8,365.8 1079.9,365.7 1080,364 1087,364 1093,367 1097,373 1097,373.2 1097.3,373.4 1097.8,377.3 1099,384 1098.6,384.6 1098.9,386.8 1104,391.6 1113.5,383.1 1119.3,385.4 1120,385 1124,396 1125.3,399.4 1125.9,399.6 1133.3,416.7 1140,420.5 1152,419.5 1158,413.5 1159.7,414.6 1161.3,407.2 1151.2,396.2 1149.2,387.3 1141.5,380.1 1141.5,375 1160.6,355.9 1161.4,344.3 1160,345 1154,339.5 1140,352.5 1125,367 1120,364.5 1113,360.5 1112.7,360.4 1108,361.6 1094,358.5 1096.8,355.7 1092,353 1086,348 1080,347 1078.8,343.7 1078.7,343.6 1072.6,339.6 1072.4,339.4 1072.2,339.3 1072,339.1 1071.9,338.9 1071.8,338.7 1071.7,338.4 1071.6,338.2 1071.5,338 1071.5,337.7 1071.5,337.5 1071.5,337.2 1071.5,337 1071.6,336.7 1071.7,336.5 1071.8,336.3 1072,336 1072.1,335.8 1072.3,335.7 1072.5,335.5 1072.7,335.4 1072.9,335.2 1073.1,335.1 1073.4,335.1 1073.6,335 1079.5,334.1 1079.5,334 1093.7,330.7 1100,323.9 1093,328 1090,315 1086,299 1074,295 1064,302 1054,293 1046.9,294.8 1047.4,296.3 1047.5,296.5 1047.5,296.8 1047.5,297.1 1047.5,297.3 1047.5,297.5 1045.9,303.7 1045.9,303.8 1045.8,304.1 1045.7,304.3 1045.5,304.5 1044.1,306.4 1044,307 1038,317 1036.3,319.1 1036.2,319.3 1036.1,319.4 1035.9,319.6 1035.8,319.8 1035.6,320 1035.5,320 1028,329 1024.9,331.3 1025,331.5 1025.1,331.7 1025.2,331.8 1026.3,333.9 1026.3,334.1 1026.4,334.3 1026.5,334.6 1026.5,334.8 1026.5,335.1 1026.5,335.3 1026,339.4 1026,339.6 1025.9,339.8 1025.8,340 1025.7,340.2 1025.6,340.4 1025.4,340.6 1025.3,340.8 1025.1,341 1024.9,341.1 1024.7,341.2 1024.4,341.3 1024.2,341.4 1024,341.5 1023.7,341.5 1023.5,341.5 1023.3,341.5 1023,341.5 1022.8,341.4 1018.9,340.2 1013,341.5 1008,346 1006.5,344.9 1006.5,347.6 1006.5,347.7 1006.5,348 1006.4,348.2 1006.3,348.5 1006.2,348.7 1006.1,348.9 1005.9,349.1 1005.8,349.3 1005.6,349.4 1005.4,349.6 1005.2,349.7 1005,349.8 1004.7,349.9 1004.5,350 1004.2,350 1004.1,350 1002.4,350 1002.3,350 1002,350 1001.8,349.9 1001.6,349.8 1001.3,349.7 1001.1,349.6 1000.9,349.5 1000.8,349.3 1000.6,349.1 1000.5,349 1000.3,348.8 1000.2,348.5 1000.1,348.3 1000.1,348.1 1000,347.9 999.5,344.3 999.5,344.1 999.5,343.9 999.5,343.6 999.6,343.4 999.6,343.1 999.8,342.9 999.9,342.7 1000,342.5 1000.2,342.3 1000.4,342.1 1000.6,341.9 1000.8,341.8 1001,341.7 1001.3,341.6 1001.5,341.5 1001.7,341.5 1001.9,341.5 1003.1,341.5 1000,336 995.5,331.8 991.6,330.3 991.4,332 987.3,337.1 986.6,340 989.5,353.9 988.7,361.1 986.2,360.3 979.5,360.6 979.5,353.3 977.5,345.2 978.5,333 977.5,320.1 977.5,318.4 974.8,310.2 970.1,304.6 961.9,295.6 951.6,305.9 939.3,287.2 936,279.7 932.6,277.4 929.9,281 927.6,296.7 937.6,307.1 936.7,319.5 941.3,319.5 945,322.6 954.8,323.7 957.1,329.7 953.2,353 946.9,340.4 942.3,334.7 938.4,338.6 937.6,346 947.5,354.9 947.5,365.4 949,368.3ZM1134.1,390 1133.9,389.9 1133.7,389.9 1133.4,389.8 1133.2,389.7 1133,389.5 1132.8,389.4 1132.7,389.2 1132.5,389 1132.4,388.8 1132.3,388.7 1131.2,386.6 1131.2,386.4 1131.1,386.2 1131,385.9 1131,385.7 1131,385.4 1131,385.2 1131,385 1131.1,384.7 1131.2,384.5 1131.3,384.3 1131.4,384.1 1131.6,383.9 1131.7,383.7 1131.9,383.5 1132.1,383.4 1132.3,383.3 1132.6,383.2 1132.8,383.1 1133,383 1133.3,383 1133.4,383 1135.6,383 1135.7,383 1136,383 1136.2,383.1 1136.4,383.2 1136.7,383.3 1136.9,383.4 1137.1,383.5 1137.3,383.7 1137.4,383.9 1137.6,384.1 1137.7,384.3 1137.8,384.5 1137.9,384.7 1138,385 1138,385.2 1138,385.4 1138,385.7 1138,385.9 1137.9,386.2 1137.8,386.4 1137.8,386.6 1136.7,388.7 1136.6,388.8 1136.5,389 1136.3,389.2 1136.2,389.4 1136,389.5 1135.8,389.7 1135.6,389.8 1135.3,389.9 1135.1,389.9 1134.9,390 1134.6,390 1134.4,390ZM1069.7,445.5 1069.8,445.3 1069.9,445.1 1070.1,444.9 1070.2,444.7 1070.4,444.6 1070.6,444.4 1073.7,442.4 1073.8,442.3 1074,442.2 1074.3,442.1 1074.5,442 1074.7,442 1075,442 1075.2,442 1075.4,442 1075.7,442.1 1075.9,442.2 1076.1,442.2 1080.2,444.3 1080.3,444.4 1080.5,444.5 1080.7,444.7 1080.9,444.9 1081.1,445 1081.2,445.3 1081.3,445.5 1081.4,445.7 1081.5,445.9 1081.5,446.2 1081.5,446.4 1081.5,446.7 1081.5,446.9 1081.4,447.2 1081.3,447.4 1081.2,447.6 1081.1,447.8 1081,448 1080.8,448.2 1080.6,448.4 1080.4,448.6 1080.2,448.7 1080.1,448.8 1075.5,450.8 1075.3,450.9 1075,451 1074.8,451 1074.6,451 1074.3,451 1074.1,451 1073.8,450.9 1073.6,450.8 1073.3,450.7 1073.1,450.6 1073,450.5 1070.4,448.4 1070.2,448.3 1070.1,448.1 1069.9,447.9 1069.8,447.7 1069.7,447.5 1069.6,447.2 1069.5,447 1069.5,446.8 1069.5,446.5 1069.5,446.3 1069.5,446 1069.6,445.8ZM1010.8,369.2 1010.7,368.9 1010.6,368.7 1010.5,368.5 1010.5,368.2 1010.5,368.1 1010.5,366.4 1010.5,366.2 1010.5,366 1010.6,365.7 1010.7,365.5 1010.8,365.3 1010.9,365.1 1011.1,364.9 1011.2,364.7 1019.3,357.1 1019.4,357.1 1024.5,353 1024.6,352.9 1024.8,352.8 1031.9,349.2 1032.1,349.1 1032.4,349.1 1032.6,349 1032.9,349 1033.1,349 1043.7,349.5 1043.9,349.5 1044.1,349.6 1044.4,349.6 1044.6,349.7 1044.8,349.9 1045,350 1045.2,350.2 1045.4,350.3 1045.5,350.5 1045.7,350.7 1045.8,351 1045.9,351.2 1045.9,351.4 1046,351.7 1046,351.9 1046.5,369.6 1049.2,377.6 1056.7,384.2 1056.8,384.3 1057,384.5 1057.1,384.7 1057.3,384.9 1057.4,385.1 1057.4,385.3 1059,391.5 1059,391.7 1059,391.9 1059,397.1 1059,397.2 1059,397.5 1058.9,397.7 1058.8,398 1058.7,398.2 1058.6,398.4 1058.5,398.6 1058.3,398.8 1058.1,398.9 1057.9,399.1 1057.7,399.2 1057.5,399.3 1053.9,400.8 1053.8,400.9 1053.5,401 1053.3,401 1053.1,401 1052.9,401 1052.6,401 1052.4,400.9 1046.3,399.4 1046.2,399.4 1045.9,399.3 1045.7,399.2 1045.6,399.1 1040.1,395.1 1031.7,390.1 1031.5,390 1031.3,389.9 1031.1,389.7 1031,389.5 1030.8,389.3 1030.7,389.1 1030.6,388.8 1030.6,388.6 1030.5,388.4 1030.5,388.1 1030.5,387.9 1030.5,387.6 1030.6,387.4 1030.6,387.1 1030.7,386.9 1030.9,386.7 1031,386.5 1038.2,377.2 1033,372 1023.9,372 1023.7,372 1012.6,370.5 1012.4,370.4 1012.2,370.4 1012,370.3 1011.8,370.2 1011.6,370.1 1011.4,369.9 1011.2,369.7 1011,369.6 1010.9,369.4ZM1046.5,346.4 1046.5,346.1 1046.6,345.9 1046.6,345.7 1046.7,345.4 1046.8,345.2 1047,345 1047.1,344.8 1047.3,344.7 1051.3,340.9 1051.5,340.8 1051.7,340.7 1051.9,340.5 1052.1,340.4 1052.3,340.4 1052.6,340.3 1052.8,340.3 1053.1,340.3 1053.3,340.3 1053.5,340.3 1053.8,340.4 1054,340.5 1054.2,340.6 1054.4,340.7 1054.6,340.9 1054.8,341 1054.9,341.2 1058,345 1058.1,345.1 1058.2,345.3 1058.3,345.6 1058.4,345.8 1058.5,346 1058.5,346.3 1058.5,346.5 1058.5,346.8 1058.5,347 1058.4,347.3 1058.3,347.5 1058.2,347.7 1058.1,347.9 1057.9,348.1 1057.7,348.3 1057.5,348.5 1057.3,348.6 1057.2,348.7 1054.1,350.3 1053.9,350.4 1053.6,350.4 1053.4,350.5 1053.1,350.5 1052.9,350.5 1052.6,350.5 1052.4,350.4 1052.2,350.4 1048.1,348.8 1047.9,348.8 1047.7,348.6 1047.5,348.5 1047.3,348.3 1047.1,348.2 1047,348 1046.8,347.8 1046.7,347.6 1046.6,347.3 1046.6,347.1 1046.5,346.9 1046.5,346.6ZM1041.8,324.6 1042,324.5 1042.3,324.5 1042.4,324.5 1044.6,324.5 1044.7,324.5 1045,324.5 1045.2,324.6 1045.5,324.7 1045.7,324.8 1045.9,324.9 1046.1,325.1 1046.3,325.2 1046.4,325.4 1046.6,325.6 1046.7,325.8 1046.8,326 1046.9,326.3 1047,326.5 1047,326.8 1047,326.9 1047,331.1 1047,331.2 1047,331.5 1046.9,331.7 1046.8,332 1046.7,332.2 1046.6,332.4 1046.4,332.6 1046.3,332.8 1046.1,332.9 1045.9,333.1 1045.7,333.2 1045.5,333.3 1045.2,333.4 1045,333.5 1044.7,333.5 1044.6,333.5 1042.4,333.5 1042.3,333.5 1042,333.5 1041.8,333.4 1041.5,333.3 1041.3,333.2 1041.1,333.1 1040.9,332.9 1040.7,332.8 1040.6,332.6 1040.4,332.4 1040.3,332.2 1040.2,332 1040.1,331.7 1040,331.5 1040,331.2 1040,331.1 1040,326.9 1040,326.8 1040,326.5 1040.1,326.3 1040.2,326 1040.3,325.8 1040.4,325.6 1040.6,325.4 1040.7,325.2 1040.9,325.1 1041.1,324.9 1041.3,324.8 1041.5,324.7Z M982,441.5 987,436.5 982,431.5 974,431.5 969,436.5 974,441.5Z M1096,476 1094,474 1092,476 1094,478Z M1169,686 1165,681 1162,684 1165,689Z M1093.3,1088 1101.3,1084.7 1090.7,1082.7 1081.3,1074.7 1064,1073.3 1054.7,1080 1046.7,1080 1036,1074 1020,1072 1001.3,1072 990.7,1067.3 970.7,1066.7 960,1065.7 960,1064.7 940,1058 924,1057.3 917.3,1062.7 924,1069.3 940,1069.3 960,1073.3 960,1070.8 962.7,1071.3 973.3,1079.3 1002.7,1080.7 1014.7,1081.3 1025.3,1091.3 1054.7,1091.3 1064,1098 1074.7,1097.3 1082.7,1090Z M995,1300 1003.3,1303.3 1013.3,1303.3 1016.7,1300 1021.7,1294.2 995,1293.3 988.3,1296.7Z M1033.3,1308.3 1043.3,1308.3 1046.7,1305.8 1031.7,1306.7Z M1103.3,1330.8 1107.5,1327 1103.3,1323 1086.7,1323.3 1081.7,1327 1086.7,1331.2Z M1189.6,1337.2 1185,1332.8 1180.4,1337.2 1185,1341.5Z M983.3,1332.5 966.7,1333.3 961.7,1336.7 966.7,1340.8 986.7,1340.8 996.7,1347.5 1003.3,1350.8 1021.7,1350 1030,1341.7 1060,1340.8 1066.7,1336.7 1060,1333.3 1018.3,1334.2 1006.7,1336.7 996.7,1335Z M1164.2,1351.7 1168.3,1347.2 1164.2,1342.8 1155.8,1342.5 1150.8,1347.2 1155.8,1351.7Z M1079.6,1367.5 1074.2,1362.5 1068.8,1367.5 1074.2,1372.5Z M1129.2,1377.5 1124.2,1372.5 1119.2,1377.5 1124.2,1382.5Z M1165.3,1372.5 1154.2,1372.5 1147.5,1380.8 1147.5,1387.5 1154.2,1395 1164.2,1395 1170.8,1387.5 1170.8,1379.2Z M1104.2,1391.7 1108,1387 1103.3,1383 1095.8,1383.3 1090.8,1387.8 1095,1391.7Z M1199.2,1400 1200,1387.5 1195,1382.8 1185.8,1382.5 1180,1387.5 1186.7,1400Z M983.3,1391.7 958.3,1392.5 958.3,1401.7 1071.7,1401.7 1071.7,1397.5 1063.3,1391.7 1021.7,1393.3Z M1299.1,169.2 1297.6,166.1 1294.1,166.4 1293.6,167.5 1296.5,171.5 1297.5,170.9Z M1269,209 1265.5,203 1262,209 1265.5,215Z M1275,241 1277,238 1269,237Z M1269,247 1265.5,241 1263,248 1266,253Z M1306.2,313.3 1314.5,311 1324,304.2 1334.6,294.5 1336.5,294.5 1336.9,293.7 1340.6,288.5 1322,274.3 1321.5,261.1 1316,255.5 1310.3,261.2 1309.7,265.2 1317.5,274 1323.1,276.7 1320.5,284.4 1320.9,294.5 1324.9,294.5 1316.4,304.1 1309.3,293.5 1307.6,291.3 1299.3,290.1 1300.5,274.6 1302.2,268.8 1292.5,260.1 1292.5,247 1301.5,238 1301.5,226.5 1304.7,218.9 1307.5,213.4 1307.5,210 1302.7,205.2 1301.7,200.2 1294.7,192.3 1290,197 1289.1,197.4 1291.5,200.3 1281,209.1 1281.5,230 1278.5,233 1283,234 1282.7,235 1284,234 1284.1,233.9 1284.4,233.8 1284.6,233.7 1284.8,233.6 1285.1,233.5 1285.3,233.5 1285.6,233.5 1285.8,233.5 1286.1,233.6 1286.3,233.6 1286.5,233.7 1286.8,233.8 1287,234 1287.2,234.1 1287.4,234.3 1287.5,234.5 1287.6,234.7 1289.2,237.3 1289.3,237.4 1289.4,237.7 1289.4,237.9 1289.5,238.1 1289.5,238.4 1289.5,238.6 1289.5,238.9 1289.4,239.1 1289.4,239.3 1289.3,239.6 1289.2,239.8 1289,240 1288.9,240.2 1288.7,240.4 1288.6,240.5 1286.5,242 1286.3,242.1 1286.1,242.3 1285.9,242.4 1285.7,242.4 1285.4,242.5 1285.2,242.5 1284.9,242.5 1284.7,242.5 1284.5,242.5 1284.2,242.4 1284,242.3 1283.8,242.2 1283.6,242.1 1283.4,241.9 1283.3,241.8 1281.4,239.9 1280,245 1278.1,250 1280.6,269.9 1272.7,277.9 1278.1,282.5 1282.3,291.9 1283.5,294.5 1283.8,294.5 1287.3,300.3 1297,305.1ZM1301.9,217.9 1302.1,218.1 1302.2,218.3 1302.3,218.6 1302.4,218.8 1302.5,219 1302.5,219.3 1302.5,219.5 1302.5,219.8 1302.5,220 1302.4,220.3 1302.3,220.5 1302.2,220.7 1302.1,220.9 1301.9,221.1 1301.7,221.3 1301.5,221.5 1301.3,221.6 1301.1,221.8 1300.9,221.8 1296.8,223.4 1296.6,223.4 1296.4,223.5 1296.2,223.5 1295.9,223.5 1295.7,223.5 1295.4,223.4 1295.2,223.4 1294.9,223.3 1294.7,223.2 1294.5,223 1294.3,222.9 1294.1,222.7 1294,222.5 1293.9,222.3 1292.3,219.7 1292.2,219.6 1292.1,219.4 1292.1,219.1 1292,218.9 1292,218.6 1292,218.4 1292,218.2 1292.1,217.9 1292.1,217.7 1292.2,217.5 1292.3,217.3 1292.4,217.1 1292.6,216.9 1292.8,216.7 1292.9,216.5 1293.1,216.4 1293.3,216.3 1293.5,216.2 1296.1,215.1 1296.3,215.1 1296.5,215 1296.8,215 1297,215 1297.3,215 1297.5,215 1297.7,215.1 1298,215.2 1298.2,215.3 1298.3,215.4 1301.4,217.4 1301.6,217.6 1301.8,217.7ZM1281.9,276.1 1282.1,275.9 1282.2,275.8 1284.3,273.7 1284.4,273.6 1284.6,273.4 1284.8,273.3 1285.1,273.2 1285.3,273.1 1285.5,273 1285.8,273 1286,273 1286.3,273 1286.5,273 1286.8,273.1 1287,273.2 1287.2,273.3 1287.4,273.4 1287.6,273.6 1287.8,273.8 1288,274 1288.1,274.2 1288.3,274.4 1288.4,274.6 1288.4,274.9 1288.5,275.1 1288.5,275.4 1288.5,275.6 1288.5,275.8 1288,279.4 1287.9,279.6 1287.9,279.8 1287.8,280 1287.7,280.3 1287.5,280.5 1287.4,280.7 1287.2,280.8 1287,281 1286.8,281.1 1286.6,281.2 1286.4,281.3 1286.2,281.4 1285.9,281.5 1285.7,281.5 1285.5,281.5 1285.2,281.5 1285,281.5 1284.7,281.4 1284.5,281.3 1284.3,281.2 1284.1,281.1 1283.9,280.9 1283.8,280.8 1282.2,279.2 1282.1,279.1 1281.9,278.9 1281.8,278.7 1281.7,278.5 1281.6,278.2 1281.5,278 1281.5,277.7 1281.5,277.5 1281.5,277.3 1281.5,277 1281.6,276.8 1281.7,276.5 1281.8,276.3Z M1280,307.8 1275.6,303.3 1271.1,307.8 1275.6,312.2Z M1222,347 1225,350 1234,352 1244,351 1247,347.5 1244,344 1226,343Z M1309.7,347.4 1317.7,358.1 1320.9,364.6 1327.9,371.1 1335.4,373.1 1344.4,366.1 1353,361.8 1349.4,348.5 1346,345.1 1342.2,348.6 1337.9,362.9 1321.9,348.3 1321.9,338.3 1313.9,330.2 1305.7,323.4 1301.3,327.8 1309.1,336.2Z M1255,360.6 1258.9,356.7 1255,352.8 1251.1,356.7Z M1250,386.1 1251,386.5 1255.6,390.6 1262.2,386.7 1255.6,382.2Z M1240,387 1235,382.5 1230.5,387 1235,391.5Z M1296.8,412 1304,412.4 1310.4,406 1305.6,400.9 1296.6,401.3 1291.7,406.2Z M1232,604 1238,601 1240,600 1252,584 1266,578 1280,560 1285.3,552.9 1286,551 1287.8,549.6 1292,544 1306,538 1318,526 1318,518 1306,510 1297,525 1287,528 1275,530 1257,550 1247,550.6 1226,570 1216,572 1204,583.4 1185,601 1175.6,592.4 1169.4,598.4 1167,621 1164,628 1174,630 1182,636 1184,646 1178,658 1169,676 1174,680 1188,676 1198,660 1204,646 1204,628 1212,620 1228,612Z M1326.2,779.9 1301.7,778 1294.9,772.4 1292.5,774.8 1298.7,781 1298.7,784.6 1316.7,802 1322.9,802 1334.9,809.1 1341.4,807.3 1346,803.7 1342.6,795.8Z M1270.2,837.1 1278.1,838.5 1286.8,834.2 1283.2,828.4 1275.2,821.1 1270.9,825.5Z M1315,832 1307.8,834.2 1312.8,841.4 1317.2,845.7 1318.6,835.6Z M1221.4,951.8 1221.4,973.5 1224.9,977.9 1228.9,973.5 1233.3,964.8 1233.6,954 1228.9,945.3 1224.6,943.1Z M1235,1090.6 1239.7,1085.9 1235,1081.2 1230.3,1085.9Z M1325.6,1141.5 1321.2,1145.9 1325.6,1150.2 1329.9,1145.9Z M1311.7,1336.7 1315.8,1341.7 1326.7,1331.7 1335,1330.8 1339.2,1326.7 1335,1323.3 1326.7,1322.5Z M1255.3,1362.7 1261.2,1357.2 1255.3,1351.7 1249.5,1357.2Z M1273.3,1377.5 1276.7,1380.8 1288.3,1378.3 1298.3,1367.5 1295.3,1365 1286.7,1373.3 1277.5,1373.3Z M1260,1388.3 1255.3,1384.2 1243.3,1393.3 1240,1390 1240,1378.3 1235,1373.3 1230.8,1377.5 1230.8,1387.5 1236.7,1400 1265,1400Z M1316.7,1400 1320,1388.3 1315,1384.2 1306.7,1384.2 1302.5,1388.3 1303.3,1400Z M1215,1393.3 1210,1400 1220,1400Z M1446.5,167.9 1446.5,162.5 1420.5,162.5 1420.5,167 1427.5,174.9 1431.4,176.5 1437,176.1Z M1336,201.8 1341,196.8 1341,180.8 1335.9,176 1331.1,180.3 1331.9,197.7Z M1377,184 1371.5,189.5 1380.1,198.6 1382.4,204.3 1384.3,217.7 1389.3,221.9 1396.4,225 1402.3,219.2 1391.4,210.1 1392.6,199.3 1395.7,193 1406.3,196.2 1413.9,188.6 1410,181.5 1404.9,176.4 1401.8,169.3 1396.8,162.5 1376.5,162.5 1379.5,167.4 1391.4,178.8 1387.2,184Z M1426.9,225 1432.6,218.5 1426.9,212.5 1417.5,212.5 1411.5,218.5 1417.6,225Z M1345,221 1342.5,227.6 1342.5,243.3 1341.7,247.8 1351.4,257.4 1353.4,278.4 1361.4,286.5 1366.3,291.1 1369.1,288.1 1359.7,278.6 1366.9,265.4 1369.7,259.7 1350.6,240.5 1350,229.6 1347.8,222.6 1346,220.1Z M1386.4,262.4 1389.3,258.4 1386.7,255.9 1383.7,259.1Z M1396.4,281.8 1400.1,277.7 1397.1,274.9 1393.4,278.6Z M1447.5,361.9 1447.5,295.3 1446.5,295.3 1446.5,289.3 1434.5,281.3 1434.5,276 1442.5,267.9 1434.2,258.8 1424.3,249.9 1417.1,243.4 1411.4,249.1 1416.1,254.6 1421.5,266.5 1420.5,285.2 1419.5,295.3 1419.2,297.1 1418.5,297.8 1410.5,307.8 1412.3,316 1416.6,320.3 1420.3,316.2 1420.9,308.3 1424.7,304.5 1428.9,304.5 1431.4,320.2 1433.5,337.3 1441.3,346.2 1441.9,357.1Z M1402.8,306.4 1401.1,298.7 1396.4,295 1391.3,300.6 1390.4,307.4 1396.1,313.1Z M1412.4,386.7 1416.7,390.9 1420.9,386.7 1416.7,382.4Z M1361.9,397.2 1356.1,391.8 1349.8,397.7 1350.2,405 1365.9,420.7 1370,415.7 1361.9,407.1Z M1389.4,693.6 1386.4,689.6 1383.4,693.6 1386.4,697.6Z M1426,813.8 1427.1,805.1 1423,798.8 1421.5,775.3 1407,762.6 1402.8,766.6 1402.1,778.4 1396.8,790.1 1386.3,779.1 1376.1,779.1 1365.5,767.2 1359.5,768.4 1346.6,769.7 1341.6,774.9 1366.8,801 1396.2,802.5 1417,818.9Z M1451.7,941.7 1445.9,938.8 1437.3,931.6 1432.9,935.9 1432.9,944.6 1435.8,951.8 1444.5,962 1451.7,963.4Z M1390.2,1045.1 1386.6,1043 1383.7,1045.1 1386.6,1047.3Z M1409.1,1076.2 1407.2,1074.1 1405.4,1075.5 1406.9,1077.4Z M1396.5,1090.7 1398.2,1086.4 1396.8,1084.2 1394.6,1086.4Z M1405.4,1149.8 1425.7,1150.5 1434.4,1146.2 1425.7,1141.1 1402.5,1142.6 1391,1143.3 1386.6,1133.1 1378,1141.8 1367.1,1141.1 1362.8,1146.2 1367.8,1151.2 1388.1,1147.9Z M1418.5,1180.9 1422.8,1176.3 1418.5,1172.9 1408.3,1172.2 1404,1176.3 1408.3,1180.9Z M1371.4,1186 1366.4,1180.7 1361.3,1186 1366.4,1191.2Z M1333.3,1380.8 1338.3,1378 1333.3,1373.7 1326.7,1373.3 1320,1377.5 1326.7,1381.7Z M1383.3,1390.8 1387.5,1387.5 1383.3,1384.2 1375.8,1384.2 1370,1387.5 1375,1392.5Z M1415,1400 1428.3,1400 1431.7,1395.8 1428.3,1392.5 1419.2,1394.2Z"/>
<path class="c3" fill-rule="evenodd" d="M229,200 222,192 214,190 214,225 223,224 230,219 229,215 222.4,207.4 225,204Z M225,328 235,333 244,341 250,347.5 247,352 243,357 253,368 259,369.5 265.5,367 264.5,369 262,377 266,380.5 278,380 284,376 288,370 289,365 284,353 280,344 274,335 270,330 268.6,327.5 253,311 250,295 240,277 232,259 229,238 214,234 214,322 218.5,324Z M261,319 255,313 268.5,327.4 266,323Z M258,438 259.6,439.4 255.3,438.7 263.3,448 267.3,445.3 266.3,444 270.5,431 270.5,426 266,422 262,415 263,410 267.5,403.5 262,398 260,394 263,386 260,385 247,375 240,367 235,362 224,367 223,373 223,386 226,389 235,389 240,393 252,410 252,433Z M277,412 272,416.5 277,421 282,416Z M321,456 326.8,456 327.3,457.3 338,468 343.3,478.7 344.7,485.3 353.3,496 354,520 353.3,544 363.3,554.7 363.3,596 366,604 383.3,622.7 384.5,638.7 383.3,646.7 387.3,656 399.3,673.3 410,686.7 423.3,702.7 424.7,713.3 444.7,733.3 450,744 458,748 464.7,745.3 458,733.3 447.3,720 443.3,705.3 434,694.7 428.7,682.7 423.3,676 420.7,654.7 412.7,646.7 415,641.3 418,641.3 416.7,637.7 418,634.7 412.7,625.3 410,618.7 405.8,618.7 396.7,608 387.3,597.3 388.7,590.7 386,573.3 383.3,560 384.7,552 380.7,541.3 379.3,525.3 374,518.7 372.7,514.7 383.3,504 394,498.7 392.7,484 394,474.7 387.3,469.3 376.7,480 371.3,473.3 372.7,457.3 371.8,456 374,456 371,453 367.5,449 364,453 362,456 362.9,456 362,457.3 360.7,461.3 346,462.7 343,454.7 343,447 339,442 334,435 332,426 331.5,418 325,411 319,409 316,401 296,379.5 286,380 282,386 297,401 301,406 301,415 310,424 311,435 320,445Z M278,469.3 272.7,473.3 276.7,480 287.3,476Z M212.7,484.7 212.7,489.3 218,489.3 223.3,486.7Z M234,493.3 226,488 222,493.3 223.3,498.7 230,498.7Z M307.3,490.7 303.3,493.3 307.3,498.7 311.3,496Z M312.7,505.3 316.7,512 320,506.7 316.7,498.7Z M242,516 246,520 250,516 246,512Z M316.7,621.3 312.7,625.3 316.7,629.3 320.7,625.3Z M223.3,653.3 224,656.7 227.3,656 226,653.3Z M232.7,665.3 236,668.7 239.3,665.3 236,662Z M327.3,671.3 323.3,675.3 327.3,679.3 331.3,675.3Z M315.3,693.3 323.3,704 327.3,710.7 330,696 324.7,688 316.7,681.3 312.7,685.3Z M284.7,690.7 276.7,690.7 272.7,694.7 276.7,702.7 279.3,706.7 290,710.7 303.3,708 308,705.3 306,702.7 295.3,700.7Z M318.7,716 320.7,714.7 316.7,714Z M296.7,725.3 294,724 294.7,726Z M304.7,735.3 308.7,738.7 312.7,735.3 308.7,732Z M1014,246 1030,246.5 1035,246 1037,238.5 1024,226 994,224 972,206 954,209 955,211 964,220 969,230 982,238 993,244 1002,247Z M1046,247.5 1036,248.5 1040,250.5 1044.5,250.5Z M1023.5,284.5 1027,278 1021,276Z M1036.5,330 1033,325.5 1029.5,329 1032,338.5 1036,336.5Z M958,330 961,343 963,349 967,338 969,327 968,317 959,317Z M993,335 989,343 993.5,352 996.5,343Z M965.5,362 966,368 970,377 976,379 984,378 984,367 976,356 972,351Z M1022,379 1008,366.5 1016,354 1016.5,348 1013,346.5 999,359 1001,376 1006,384 1016,392 1024,400.5 1031,399 1033,396 1029,388Z M347.3,670 351.3,665.3 347.3,660.7 336.7,660.7 332,665.3 336.7,670Z M464.7,752 468.7,758.7 472.7,754.7 468.7,748Z M354,754.7 358,758 362,754.7 357.3,751.3Z M478.7,762 476.7,764 478,766.7 480,766.7Z M372.7,764.7 378,768.7 383.3,764.7 378,760Z M392.7,775.3 398,779.3 403.3,775.3 398,770.7Z M498.7,780.7 495.3,784 498.7,787.3 502,784Z M412.7,785.3 418,790.7 423.3,786 417.3,780.7Z M810,781.3 805.3,780.7 800,786.7 800,796 803.3,806.7 804.7,817.3 806,828 803.3,844 804,860 806.7,866.7 810,880 811.3,902.7 814.3,902.7 814.7,906.7 814,918.7 815.3,933.3 820,938.7 824,925.3 832,918.7 834.7,906.7 831.3,895.6 830.7,892 827.3,882.7 830,872 826.7,860 824,848 820.7,841.3 818,833.3 818.7,814.7 822,806.7 824.7,796 822.7,790.7 818.7,782.7 812.7,772.7 814.7,764 813.3,753.3 815.3,744 818.7,735.3 813.3,728.7 808,733.3 804,740 801.3,750.7 804,753.3 806,764 808,772 813.3,776Z M1018.7,1075.3 986.7,1074 972,1075.3 985.3,1076.7 1014.7,1077.3Z M973.3,1397.5 966.7,1395 960,1397.5 960,1401.7 973.3,1401.7Z M1295.5,206 1293,209 1295,210 1297.5,209.5Z M1283,260 1286,264 1288.5,259 1288,251 1285,247 1282,251Z M1296,277 1298,268 1295,267 1292,268 1294,273Z M1288,287 1284,287 1286,290Z M1296.7,290.6 1291.1,291.7 1292.2,297.2 1298.9,303.9 1305.6,309.4 1307.8,307.2 1308.9,301.7 1308.9,295 1305.6,291.1Z M1048,325 1049,326 1058,332 1065,333 1074,326 1076.2,320.1 1078,318 1066,317 1052,314 1041,315 1043.1,318 1041,318Z M1315.6,350.6 1317.8,347.2 1317.8,339.4 1315.6,335.6 1313.3,338.3 1312.2,346.7Z M1084,360 1087,357.5 1086.7,357.2 1087,357 1086.1,356.4 1084,354 1079,355 1079,357 1079,359Z M1128,368 1130,376 1134.5,381 1140,374 1145,367 1153,357.5 1145,355 1136,360Z M1060,358 1054,354 1049,359 1048,365 1050,370 1058,377 1064,384 1069,371 1068,367Z M1102.5,372 1102,378 1104,381 1113,380 1117,376 1118,368 1114,364 1106,367Z M1172,376.5 1174.5,380 1177,376.5 1174.5,372Z M1184.5,383 1181,386.5 1184.5,390.5 1188,386.5Z M1144,390 1133,392 1128,397 1129,403 1132,410 1140,414 1149,414 1156,411 1158,406 1150,397Z M1252,580 1266,574 1280,556 1292,542 1302,534 1300,528 1296,524 1276,536 1250,556 1220,578 1204,590 1198,598 1198,610 1202,617 1208,616 1216,608 1228,600 1232,594 1240,590Z M1053.3,1082.7 1045.3,1082 1034.7,1077.3 1024,1077.3 1021.3,1080.7 1022.7,1086.7 1036,1087.3 1046.7,1088.7 1065.3,1086 1066,1076 1064,1074.7Z M1154.2,1347.2 1156.7,1348.8 1159.2,1347.2 1156.7,1345.5Z M1252.8,1357.2 1255.3,1359.7 1257.8,1357.2 1255.3,1354.7Z M1155,1375 1150,1380.8 1150,1386.7 1155,1393.3 1163.3,1393.3 1169.2,1386.7 1169.2,1381.7 1165,1375Z M1195,1388.3 1188.3,1383.3 1182.5,1388.3 1185,1393.3 1191.7,1393.3Z M1215,1395.8 1212.5,1400 1217.5,1400Z M1388,172 1392,168 1391,162.5 1383,163 1385,168Z M1425,167 1430,173.5 1438,175 1444,170 1436,162.5 1425,162.5Z M1397,172 1394,178 1397.5,185 1399.5,178Z M1400,189 1407,193 1411,189 1407,184Z M1377,188 1375,189.5 1378.5,190Z M1386.5,194 1383.5,199 1387,204 1389.5,199Z M1425,223 1429,218.5 1426,214.5 1418,214 1412,218.5 1418,223.5Z M1394,219 1397,221.5 1399.5,219 1396.5,216.5Z M1417,245.5 1414,248 1417,252 1420,249Z M1423,259 1428,265 1431,260 1427,255Z M1313,267.5 1316,271.5 1319,267.5 1316,263.5Z M1434,307 1434.4,308.3 1437.8,318.3 1442.2,317.2 1442.8,306.1 1439.9,296.2 1440,295 1439.2,294 1438.9,292.8 1438.3,292.8 1434,287 1432,280 1427,271 1423,280 1424,295 1430,307Z M1330,288 1326,284 1323,288 1324,292 1327,295Z M1396.1,302.8 1393.3,307.2 1396.1,310 1398.9,307.2Z M1322.2,357.2 1326.1,361.7 1328.9,358.3 1326.1,353.9Z M1332.8,367.2 1335.6,370 1338.9,367.2 1335.6,364.4Z M1356.1,392.8 1354.4,395 1356.1,400.6 1357.8,397.2Z M1300.5,784.3 1307.1,792.2 1315.7,800.2 1335.3,800.9 1339.6,795.8 1334.5,790.8 1324.4,785 1304.2,779.9Z M1406.9,778.5 1402.5,787.1 1396.8,791.5 1388.1,787.1 1375.8,785.7 1363.5,774.1 1351.2,773.1 1346.8,775.6 1353.4,787.1 1366.4,799.4 1399.7,799.4 1416.3,810.3 1420.6,805.2 1420.6,798 1417,789.3Z M1425.7,1144.4 1423.5,1146.2 1425.7,1147.9 1427.9,1146.2Z M1324.2,1327 1326.7,1329.1 1329.2,1327 1326.7,1324.9Z M1313.3,1336.7 1315.8,1339.2 1318.3,1336.7 1315.8,1334.2Z"/>
<path class="c4" fill-rule="evenodd" d="M982.8,227 984,222 983.5,218.5 972,218 978,223Z M989,227.8 993.8,230 994,228.2Z M326.5,456 331.3,456 336,460.7 336.6,456 337.5,456 338,446 336.9,444.9 335.3,438.7 330.7,438.7 330,438 327,431 326.5,426 320,422 316,421 316,437 326,447.5Z M1307.1,784 1304.9,784 1304.9,786 1307.1,786Z M1318.9,794.1 1315,794.1 1315,796 1318.9,796Z"/>
<line class="g" x1="398" y1="160.3" x2="398" y2="1398.2"/>
<line class="g" x1="584.4" y1="160.3" x2="584.4" y2="1398.2"/>
<line class="g" x1="770.8" y1="160.3" x2="770.8" y2="1398.2"/>
<line class="g" x1="957.2" y1="160.3" x2="957.2" y2="1398.2"/>
<line class="g" x1="1143.6" y1="160.3" x2="1143.6" y2="1398.2"/>
<line class="g" x1="1330" y1="160.3" x2="1330" y2="1398.2"/>
<line class="g" x1="216.5" y1="283" x2="1447.7" y2="283"/>
<line class="g" x1="216.5" y1="469" x2="1447.7" y2="469"/>
<line class="g" x1="216.5" y1="655.6" x2="1447.7" y2="655.6"/>
<line class="g" x1="216.5" y1="842" x2="1447.7" y2="842"/>
<line class="g" x1="216.5" y1="1028.6" x2="1447.7" y2="1028.6"/>
<line class="g" x1="216.5" y1="1215" x2="1447.7" y2="1215"/>
<path class="coast" d="M214,231 218,237 222,245 225.6,253 229,252 228,257 231,265 235,276 238,281 243,282 246,285 251,293 257,300 268,310 275,318 279,323 285,338 287,345 289,348.6 294,349 298,353 302,361 304,363 303,365 310,381 316,397 320,411 323,425 326,432 329,433 327,436 331,444 336,455 M246,285 244.4,281 249,277.4 253,280.6 248,283 M251,293 255,289.4 261,286 262,293 257,292 251,293 M867,159 867,169 866,181 864,191 861,200 858,206 856,217 852,226 846,237 841,241 834,252 827,255 833,253 824,268 816,280 815,287 811,297 808,310 805,322 802.6,335 803.6,343 807,353 810,352 811,359 804,361 793,370 802,364 807,363 812.4,365 813,375 815.6,388 815,403 813.6,413 815,455 M336,454.9 342,464 344,473.3 350,484 354,493.3 356.7,501.3 360.7,508 364.7,505.3 366,502 363.3,501.3 360.7,498 M360.7,508 358,509.3 360.7,517.3 364.7,525.3 366.7,533.3 366,536 370,538.7 375.3,536 380.7,542.7 383.3,550.7 384.7,557.3 386,568 387.3,573.3 387.3,581.3 390,586.7 396.7,588 399.3,588.7 396.7,593.3 392.7,593.3 383.3,592 380.7,588 383.3,574.7 382,565.3 379.3,557.3 376.7,546.7 374,548 370,545.3 367.3,537.3 M362.7,514.7 364.7,520 367.3,518.7 370,526.7 366,532 362,520 362.7,514.7 M367.3,537.3 368.7,546.7 371.3,560 372.7,576 375.3,593.3 379.3,606.7 384.7,620 390,630.7 394,640 M370,545.3 371.3,550.7 375.3,548 378,557.3 379.3,568 378,560 375.3,552 372.7,552 M382.7,620 387.3,628 392.7,640 396.7,646.7 400.7,656 402.7,661.3 406,666.7 415.3,676 426,689.3 435.3,700 439.3,708 446,714.7 455.3,726.7 463.3,734.7 474,744 487.3,755.3 494,758.7 499.3,764 514,768.7 523.3,770.7 530.7,770 530,765.3 535.3,761.3 546,759.3 555.3,757.3 560.7,752 570,746 M402.7,661.3 404.7,658 410,656 419.3,654.9 414,658.7 418,659.3 412.7,661.3 407.3,660.7 413.3,664.7 410,666.7 406,666.7 M815,455 815,460 816.3,470 817,481.7 815.8,495.8 806.7,497.5 805,499.7 778.3,493.3 774.2,490.8 765,492.5 758.3,490.8 748.3,496.7 743.3,500.8 742.5,506.7 738.7,509.2 739.2,518.3 740.8,525 744.2,526.7 736.7,533.3 728.3,545 720.8,556.7 713.3,565 706.7,575 700.8,583.3 698.3,596.7 700.8,603.3 708.3,611.7 716.7,617.5 726.7,619.2 740,619.2 748.3,615.8 751.7,617.5 750.8,622.5 765,635.8 763.3,637 748.3,625.8 743.3,624.2 733.3,620.8 720,624.2 706.7,620.8 701.7,622.5 690,625 676.7,631.7 666.7,633.3 664.2,637.5 653.3,639.2 641.7,640.8 633.3,644.2 623.3,651.7 613.3,660 607.5,670 605.8,681.7 610.8,682.5 611.7,685.8 605,685.8 602.5,693.3 599.2,698.3 601.7,701.7 602.5,710 M774.2,490.8 783.3,488.7 806.7,494.2 805.8,496.3 785,491.3 776.7,491.7 M790.8,586.7 793.3,591.7 798.3,590.8 800,593.3 796.7,595.8 791.7,595 790,590 790.8,586.7 M815.8,561.7 820.8,560.8 823.3,558.3 831.7,553.3 848.3,553.3 865,552.5 867.5,558.3 873.3,566.7 890,581.7 910,596.7 925,610 932.5,618.3 926.7,617.5 925,618.3 931.7,623.3 935,621.7 938.3,628.3 943.3,636.7 937.5,637.5 942.5,641.7 945,646.7 948.3,651.7 951.7,654.2 943.3,651.7 946.7,656.7 952.5,659.2 950,663.3 946.7,662.5 954.2,658.3 960,666.7 968.3,673.3 973.3,681.7 979.2,690 981.7,693.3 986.7,698.3 985.8,704.2 988.3,710 983.3,712.5 976.7,714.2 974.2,716.7 978.3,715 981.7,720 986.7,721.7 993.3,720 995,716.7 1000,715.8 1003.3,720 1005.8,730 M848.3,553.3 849.2,558.3 858.3,561.7 870,573.3 880,580 888.3,583.3 883.3,578.3 871.7,566.7 863.3,558.3 850,555 M845,576.7 853.3,580 858.3,578.3 856.7,575 863.3,577.5 875,586.7 886.7,590 900,596.7 910,600 900,595 890,591.7 886.7,593.3 868.3,599.2 866.7,595 864.2,591.7 858.3,596.7 855,593.3 840,582.5 848.3,581.7 845,576.7 M820.8,560.8 821.7,568.3 825,575 830,578.3 823.3,579.2 818.3,576.7 814.2,568.3 815.8,561.7 M823.3,558.3 826.7,566.7 833.3,571.7 843.3,578.3 M858.3,596.7 850,602.5 840.8,605 840,610 841.7,615 848.3,618.3 847.5,630 843.3,640 840,651.7 831.7,656.7 823.3,663.3 825,670 825,680 827.5,688.3 825.8,701.7 821.7,708.3 817.5,713.3 815.8,721.7 814.2,730 M800,642.5 808.3,645 816.7,650 823.3,653.3 816.7,651.7 821.7,659.2 815,655 806.7,646.7 800,645 795.8,644.2 795.8,642.5 800,642.5 M814.1,730 813.3,734.7 811.3,744 809.3,752 810.7,761.3 810,768 806.7,774.7 812,777.3 812.7,780 809.3,781.6 804,780.7 800,777.3 798,772 795.3,762.7 796,752 800,748 804,739.3 806,736.7 802.7,741.3 800,746 806,747.3 802.7,753.3 801.3,758.7 802.7,765.3 806.7,772.7 806.7,774.7 M798,772 800,785.3 802.7,796 805.3,806.7 806.7,816 807.3,821.3 808.7,823.3 806,828.7 806.7,833.3 808,846.7 810,860 812,873.3 812.7,877.3 810,880 810.7,885.3 813.3,889.3 816,886.7 816,881.3 813.3,878.7 812.7,877.3 M812.7,877.3 814,897.3 815.3,904 814,908.7 814.7,918.7 817.3,930.7 822.7,942.7 828,954.7 830.7,968 828,970 831.3,972 834.7,982.7 836.7,994.7 840,1004 845.3,1012 852,1018.7 858.7,1024.7 866.7,1027.3 876,1031.3 888,1032 890.7,1035.3 898.7,1035.3 906.7,1038 913.3,1034 921.3,1033.3 933.3,1024 937.3,1022.7 940,1024 942.7,1020 957.3,1016 970.7,1012.7 978.7,1008.7 980.7,1005.3 982,1008.7 1000,1001.3 M1000,1001.3 1004,998.7 1014.7,990.7 1025.3,982 1032,979.3 1040,973.3 1045.3,966.7 1050,960 M1005,730 1000.8,730.8 1003.3,736.7 1006.7,735 1010,750 1012.5,756.7 1006.7,755.8 1006.7,761.7 1010.8,768.3 1015.8,766.7 1017.5,771.7 1023.3,778.3 1027.5,781.7 1026.7,785.8 1030.8,789.2 1029.2,795 1032.5,800 1036.7,800.8 1041.7,806.7 1046.7,813.3 1050,816.7 1056.7,828.3 1059.2,838.3 1060,845 1059.2,853.3 1056.7,852.5 1051.7,841.7 1055,845 1063.3,850 1066.7,860 1067.5,875 1066.7,893.3 1068.3,900 1066.7,910 1063.3,921.7 1060.8,933.3 1055,945 1050,960 M1046.7,815 1040,815 1036.7,810 1031.7,810.8 1031.7,815 1038.3,814.2 1043.3,821.7 1046.7,826.7 1050,831.7 1055,841.7 M1047.5,813.3 1050.8,820 1055,830 1056.7,838.3 1055,841.7 M602.5,710 601.7,713.3 600.7,719.3 599.3,721.3 595.3,725.3 594,726.7 592.3,734.3 590.7,735 584.7,737 570,745.9"/>
<path d="M387.1,624.7 390,625.1 396.7,634 396,640 392.7,637.3 388.7,630.7Z" fill="#000" stroke="#000" stroke-width="1"/>
</g>
<rect x="216.5" y="160.3" width="1231.2" height="1237.9" fill="none" stroke="#000" stroke-width="3.33"/>
<text class="t" x="831.4" y="77.3">rf(mm) 20250807_00 to 20250807_03</text>
<text class="t" x="847" y="135">Simulation Time: 20250806_12</text>
<text class="k" text-anchor="middle" x="398" y="1451.4">76.5°E</text>
<text class="k" text-anchor="middle" x="584.4" y="1451.4">78°E</text>
<text class="k" text-anchor="middle" x="770.8" y="1451.4">79.5°E</text>
<text class="k" text-anchor="middle" x="957.2" y="1451.4">81°E</text>
<text class="k" text-anchor="middle" x="1143.6" y="1451.4">82.5°E</text>
<text class="k" text-anchor="middle" x="1330" y="1451.4">84°E</text>
<text class="k" text-anchor="end" x="194.8" y="295.2">12°N</text>
<text class="k" text-anchor="end" x="194.8" y="481.2">10.5°N</text>
<text class="k" text-anchor="end" x="194.8" y="667.8">9°N</text>
<text class="k" text-anchor="end" x="194.8" y="854.2">7.5°N</text>
<text class="k" text-anchor="end" x="194.8" y="1040.8">6°N</text>
<text class="k" text-anchor="end" x="194.8" y="1227.2">4.5°N</text>
<rect x="1524.1" y="1275.33" width="62.9" height="133.567" fill="#5b53a4"/>
<rect x="1524.1" y="1142.07" width="62.9" height="133.567" fill="#4e63ac"/>
<rect x="1524.1" y="1008.8" width="62.9" height="133.567" fill="#3880b9"/>
<rect x="1524.1" y="875.533" width="62.9" height="133.567" fill="#60bba8"/>
<rect x="1524.1" y="742.267" width="62.9" height="133.567" fill="#bae3a1"/>
<rect x="1524.1" y="609" width="62.9" height="133.567" fill="#f5fbaf"/>
<rect x="1524.1" y="475.733" width="62.9" height="133.567" fill="#fee18d"/>
<rect x="1524.1" y="342.467" width="62.9" height="133.567" fill="#fa9b58"/>
<rect x="1524.1" y="209.2" width="62.9" height="133.567" fill="#d43d4f"/>
<path d="M1524.1 209.3 L1555.55 149.3 L1587 209.3 Z" fill="#9e0142"/>
<path d="M1524.1 1408.9 L1524.1 209.5 L1555.55 149.3 L1587 209.5 L1587 1408.9 Z" fill="none" stroke="#000" stroke-width="3.33" stroke-linejoin="miter"/>
<line x1="1587" y1="1408.9" x2="1602.5" y2="1408.9" stroke="#000" stroke-width="3.33"/>
<text class="k" x="1616" y="1424.7">2</text>
<line x1="1587" y1="1275.63" x2="1602.5" y2="1275.63" stroke="#000" stroke-width="3.33"/>
<text class="k" x="1616" y="1291.43">5</text>
<line x1="1587" y1="1142.37" x2="1602.5" y2="1142.37" stroke="#000" stroke-width="3.33"/>
<text class="k" x="1616" y="1158.17">10</text>
<line x1="1587" y1="1009.1" x2="1602.5" y2="1009.1" stroke="#000" stroke-width="3.33"/>
<text class="k" x="1616" y="1024.9">20</text>
<line x1="1587" y1="875.833" x2="1602.5" y2="875.833" stroke="#000" stroke-width="3.33"/>
<text class="k" x="1616" y="891.633">40</text>
<line x1="1587" y1="742.567" x2="1602.5" y2="742.567" stroke="#000" stroke-width="3.33"/>
<text class="k" x="1616" y="758.367">60</text>
<line x1="1587" y1="609.3" x2="1602.5" y2="609.3" stroke="#000" stroke-width="3.33"/>
<text class="k" x="1616" y="625.1">80</text>
<line x1="1587" y1="476.033" x2="1602.5" y2="476.033" stroke="#000" stroke-width="3.33"/>
<text class="k" x="1616" y="491.833">100</text>
<line x1="1587" y1="342.767" x2="1602.5" y2="342.767" stroke="#000" stroke-width="3.33"/>
<text class="k" x="1616" y="358.567">120</text>
<line x1="1587" y1="209.5" x2="1602.5" y2="209.5" stroke="#000" stroke-width="3.33"/>
<text class="k" x="1616" y="225.3">150</text>
</svg>
</body></html>
